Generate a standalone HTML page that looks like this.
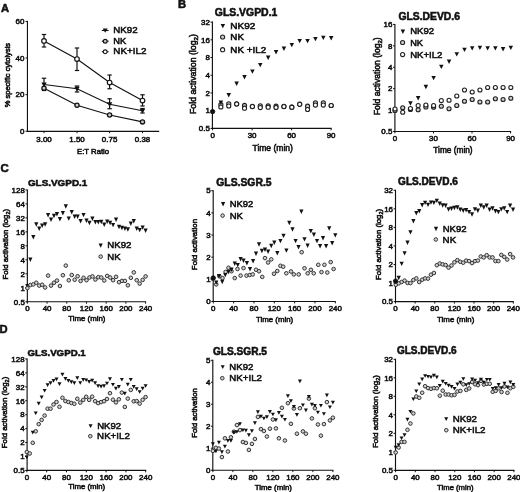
<!DOCTYPE html>
<html><head><meta charset="utf-8"><style>
text{stroke:#111;stroke-width:0.55px;}
html,body{margin:0;padding:0;background:#fff;width:520px;height:492px;overflow:hidden;font-family:"Liberation Sans", sans-serif;}
</style></head><body>
<svg width="520" height="492" viewBox="0 0 520 492" style="position:absolute;left:0;top:0;will-change:transform">
<rect width="520" height="492" fill="#fff"/>
<g font-family='"Liberation Sans", sans-serif' fill="#111">
<text x="0.9" y="12.3" font-size="11.2" font-weight="bold">A</text>
<line x1="27.45" y1="20.90" x2="27.45" y2="131.90" stroke="#111" stroke-width="1.15"/>
<line x1="26.85" y1="131.30" x2="159.20" y2="131.30" stroke="#111" stroke-width="1.15"/>
<line x1="25.55" y1="131.30" x2="27.45" y2="131.30" stroke="#111" stroke-width="1.0"/>
<text x="24.45" y="134.08" font-size="7.95" text-anchor="end">0</text>
<line x1="25.55" y1="94.67" x2="27.45" y2="94.67" stroke="#111" stroke-width="1.0"/>
<text x="24.45" y="97.45" font-size="7.95" text-anchor="end">20</text>
<line x1="25.55" y1="58.03" x2="27.45" y2="58.03" stroke="#111" stroke-width="1.0"/>
<text x="24.45" y="60.82" font-size="7.95" text-anchor="end">40</text>
<line x1="25.55" y1="21.40" x2="27.45" y2="21.40" stroke="#111" stroke-width="1.0"/>
<text x="24.45" y="24.18" font-size="7.95" text-anchor="end">60</text>
<line x1="44.00" y1="131.30" x2="44.00" y2="133.20" stroke="#111" stroke-width="1.0"/>
<text x="44.00" y="141.50" font-size="7.95" text-anchor="middle">3.00</text>
<line x1="77.00" y1="131.30" x2="77.00" y2="133.20" stroke="#111" stroke-width="1.0"/>
<text x="77.00" y="141.50" font-size="7.95" text-anchor="middle">1.50</text>
<line x1="109.60" y1="131.30" x2="109.60" y2="133.20" stroke="#111" stroke-width="1.0"/>
<text x="109.60" y="141.50" font-size="7.95" text-anchor="middle">0.75</text>
<line x1="142.50" y1="131.30" x2="142.50" y2="133.20" stroke="#111" stroke-width="1.0"/>
<text x="142.50" y="141.50" font-size="7.95" text-anchor="middle">0.38</text>
<text transform="translate(77.08,153.80) scale(1.000,1)" font-size="7.72" font-weight="normal" >E:T Ratio</text>
<text transform="translate(10.00,107.36) rotate(-90)" font-size="7.54">% specific cytolysis</text>
<polyline points="44.0,40.9 77.0,59.0 109.6,82.5 142.5,100.6" fill="none" stroke="#111" stroke-width="1.15"/>
<polyline points="44.0,84.5 77.0,88.8 109.6,104.2 142.5,110.8" fill="none" stroke="#111" stroke-width="1.15"/>
<polyline points="44.0,88.2 77.0,105.2 109.6,115.0 142.5,121.9" fill="none" stroke="#111" stroke-width="1.15"/>
<line x1="44.00" y1="34.50" x2="44.00" y2="47.00" stroke="#111" stroke-width="1.2"/>
<line x1="41.80" y1="34.50" x2="46.20" y2="34.50" stroke="#111" stroke-width="1.2"/>
<line x1="41.80" y1="47.00" x2="46.20" y2="47.00" stroke="#111" stroke-width="1.2"/>
<line x1="77.00" y1="48.00" x2="77.00" y2="70.50" stroke="#111" stroke-width="1.2"/>
<line x1="74.80" y1="48.00" x2="79.20" y2="48.00" stroke="#111" stroke-width="1.2"/>
<line x1="74.80" y1="70.50" x2="79.20" y2="70.50" stroke="#111" stroke-width="1.2"/>
<line x1="109.60" y1="75.00" x2="109.60" y2="88.75" stroke="#111" stroke-width="1.2"/>
<line x1="107.40" y1="75.00" x2="111.80" y2="75.00" stroke="#111" stroke-width="1.2"/>
<line x1="107.40" y1="88.75" x2="111.80" y2="88.75" stroke="#111" stroke-width="1.2"/>
<line x1="142.50" y1="94.80" x2="142.50" y2="106.00" stroke="#111" stroke-width="1.2"/>
<line x1="140.30" y1="94.80" x2="144.70" y2="94.80" stroke="#111" stroke-width="1.2"/>
<line x1="140.30" y1="106.00" x2="144.70" y2="106.00" stroke="#111" stroke-width="1.2"/>
<line x1="44.00" y1="78.25" x2="44.00" y2="90.50" stroke="#111" stroke-width="1.2"/>
<line x1="41.80" y1="78.25" x2="46.20" y2="78.25" stroke="#111" stroke-width="1.2"/>
<line x1="41.80" y1="90.50" x2="46.20" y2="90.50" stroke="#111" stroke-width="1.2"/>
<line x1="77.00" y1="86.00" x2="77.00" y2="92.00" stroke="#111" stroke-width="1.2"/>
<line x1="74.80" y1="86.00" x2="79.20" y2="86.00" stroke="#111" stroke-width="1.2"/>
<line x1="74.80" y1="92.00" x2="79.20" y2="92.00" stroke="#111" stroke-width="1.2"/>
<line x1="109.60" y1="98.75" x2="109.60" y2="108.75" stroke="#111" stroke-width="1.2"/>
<line x1="107.40" y1="98.75" x2="111.80" y2="98.75" stroke="#111" stroke-width="1.2"/>
<line x1="107.40" y1="108.75" x2="111.80" y2="108.75" stroke="#111" stroke-width="1.2"/>
<line x1="142.50" y1="108.50" x2="142.50" y2="113.00" stroke="#111" stroke-width="1.2"/>
<line x1="140.30" y1="108.50" x2="144.70" y2="108.50" stroke="#111" stroke-width="1.2"/>
<line x1="140.30" y1="113.00" x2="144.70" y2="113.00" stroke="#111" stroke-width="1.2"/>
<circle cx="44.00" cy="88.25" r="2.1" fill="#ccc" stroke="#111" stroke-width="1.3"/>
<circle cx="77.00" cy="105.25" r="2.1" fill="#ccc" stroke="#111" stroke-width="1.3"/>
<circle cx="109.60" cy="115.00" r="2.1" fill="#ccc" stroke="#111" stroke-width="1.3"/>
<circle cx="142.50" cy="121.90" r="2.1" fill="#ccc" stroke="#111" stroke-width="1.3"/>
<path d="M41.30,82.50L46.70,82.50L44.00,87.10Z" fill="#111"/>
<path d="M74.30,86.75L79.70,86.75L77.00,91.35Z" fill="#111"/>
<path d="M106.90,102.25L112.30,102.25L109.60,106.85Z" fill="#111"/>
<path d="M139.80,108.80L145.20,108.80L142.50,113.40Z" fill="#111"/>
<circle cx="44.00" cy="40.90" r="2.3" fill="#fff" stroke="#111" stroke-width="1.15"/>
<circle cx="77.00" cy="59.00" r="2.3" fill="#fff" stroke="#111" stroke-width="1.15"/>
<circle cx="109.60" cy="82.50" r="2.3" fill="#fff" stroke="#111" stroke-width="1.15"/>
<circle cx="142.50" cy="100.60" r="2.3" fill="#fff" stroke="#111" stroke-width="1.15"/>
<line x1="101.80" y1="30.50" x2="108.60" y2="30.50" stroke="#111" stroke-width="1.1"/>
<line x1="101.80" y1="41.20" x2="108.60" y2="41.20" stroke="#111" stroke-width="1.1"/>
<line x1="101.80" y1="51.80" x2="108.60" y2="51.80" stroke="#111" stroke-width="1.1"/>
<path d="M102.70,28.50L107.70,28.50L105.20,32.70Z" fill="#111"/>
<circle cx="105.20" cy="41.20" r="1.9" fill="#ccc" stroke="#111" stroke-width="1.2"/>
<circle cx="105.20" cy="51.80" r="1.9" fill="#fff" stroke="#111" stroke-width="1.1"/>
<text transform="translate(113.32,33.10) scale(1.000,1)" font-size="9.75" font-weight="normal" >NK92</text>
<text transform="translate(113.35,43.70) scale(1.000,1)" font-size="9.34" font-weight="normal" >NK</text>
<text transform="translate(113.31,54.00) scale(1.000,1)" font-size="9.85" font-weight="normal" >NK+IL2</text>
<text x="178.1" y="8.3" font-size="11.2" font-weight="bold">B</text>
<line x1="212.40" y1="21.60" x2="212.40" y2="129.02" stroke="#111" stroke-width="1.15"/>
<line x1="211.80" y1="128.42" x2="331.60" y2="128.42" stroke="#111" stroke-width="1.15"/>
<line x1="210.50" y1="128.42" x2="212.40" y2="128.42" stroke="#111" stroke-width="1.0"/>
<text x="209.90" y="131.20" font-size="7.95" text-anchor="end">0.5</text>
<line x1="210.50" y1="110.70" x2="212.40" y2="110.70" stroke="#111" stroke-width="1.0"/>
<text x="209.90" y="113.48" font-size="7.95" text-anchor="end">1</text>
<line x1="210.50" y1="92.98" x2="212.40" y2="92.98" stroke="#111" stroke-width="1.0"/>
<text x="209.90" y="95.76" font-size="7.95" text-anchor="end">2</text>
<line x1="210.50" y1="75.26" x2="212.40" y2="75.26" stroke="#111" stroke-width="1.0"/>
<text x="209.90" y="78.04" font-size="7.95" text-anchor="end">4</text>
<line x1="210.50" y1="57.54" x2="212.40" y2="57.54" stroke="#111" stroke-width="1.0"/>
<text x="209.90" y="60.32" font-size="7.95" text-anchor="end">8</text>
<line x1="210.50" y1="39.82" x2="212.40" y2="39.82" stroke="#111" stroke-width="1.0"/>
<text x="209.90" y="42.60" font-size="7.95" text-anchor="end">16</text>
<line x1="210.50" y1="22.10" x2="212.40" y2="22.10" stroke="#111" stroke-width="1.0"/>
<text x="209.90" y="24.88" font-size="7.95" text-anchor="end">32</text>
<line x1="212.60" y1="128.42" x2="212.60" y2="130.32" stroke="#111" stroke-width="1.0"/>
<text x="212.60" y="138.12" font-size="7.95" text-anchor="middle">0</text>
<line x1="252.10" y1="128.42" x2="252.10" y2="130.32" stroke="#111" stroke-width="1.0"/>
<text x="252.10" y="138.12" font-size="7.95" text-anchor="middle">30</text>
<line x1="291.60" y1="128.42" x2="291.60" y2="130.32" stroke="#111" stroke-width="1.0"/>
<text x="291.60" y="138.12" font-size="7.95" text-anchor="middle">60</text>
<line x1="331.10" y1="128.42" x2="331.10" y2="130.32" stroke="#111" stroke-width="1.0"/>
<text x="331.10" y="138.12" font-size="7.95" text-anchor="middle">90</text>
<text transform="translate(214.78,15.70) scale(1.000,1)" font-size="10.43" font-weight="bold" >GLS.VGPD.1</text>
<text transform="translate(196.20,114.00) rotate(-90)" font-size="8.78">Fold activation (log<tspan font-size="6.15" dy="1.93">2</tspan><tspan dy="-1.93">)</tspan></text>
<text transform="translate(252.49,151.40) scale(1.000,1)" font-size="8.52" font-weight="normal" >Time (min)</text>
<path d="M220.60,23.90L225.10,23.90L222.85,28.20Z" fill="#111"/>
<text transform="translate(230.30,29.30) scale(1.070,1)" font-size="9.39" font-weight="normal" >NK92</text>
<circle cx="222.60" cy="37.00" r="2.05" fill="#cfcfcf" stroke="#222" stroke-width="1.1"/>
<text transform="translate(230.32,40.30) scale(1.070,1)" font-size="9.17" font-weight="normal" >NK</text>
<circle cx="222.60" cy="49.70" r="2.05" fill="#fff" stroke="#222" stroke-width="1.1"/>
<text transform="translate(230.31,53.00) scale(1.070,1)" font-size="9.21" font-weight="normal" >NK +IL2</text>
<line x1="394.90" y1="23.92" x2="394.90" y2="132.12" stroke="#111" stroke-width="1.15"/>
<line x1="394.30" y1="131.52" x2="511.10" y2="131.52" stroke="#111" stroke-width="1.15"/>
<line x1="393.00" y1="131.52" x2="394.90" y2="131.52" stroke="#111" stroke-width="1.0"/>
<text x="392.40" y="134.30" font-size="7.95" text-anchor="end">0.5</text>
<line x1="393.00" y1="110.10" x2="394.90" y2="110.10" stroke="#111" stroke-width="1.0"/>
<text x="392.40" y="112.88" font-size="7.95" text-anchor="end">1</text>
<line x1="393.00" y1="88.68" x2="394.90" y2="88.68" stroke="#111" stroke-width="1.0"/>
<text x="392.40" y="91.46" font-size="7.95" text-anchor="end">2</text>
<line x1="393.00" y1="67.26" x2="394.90" y2="67.26" stroke="#111" stroke-width="1.0"/>
<text x="392.40" y="70.04" font-size="7.95" text-anchor="end">4</text>
<line x1="393.00" y1="45.84" x2="394.90" y2="45.84" stroke="#111" stroke-width="1.0"/>
<text x="392.40" y="48.62" font-size="7.95" text-anchor="end">8</text>
<line x1="393.00" y1="24.42" x2="394.90" y2="24.42" stroke="#111" stroke-width="1.0"/>
<text x="392.40" y="27.20" font-size="7.95" text-anchor="end">16</text>
<line x1="394.90" y1="131.52" x2="394.90" y2="133.42" stroke="#111" stroke-width="1.0"/>
<text x="394.90" y="140.92" font-size="7.95" text-anchor="middle">0</text>
<line x1="433.47" y1="131.52" x2="433.47" y2="133.42" stroke="#111" stroke-width="1.0"/>
<text x="433.47" y="140.92" font-size="7.95" text-anchor="middle">30</text>
<line x1="472.03" y1="131.52" x2="472.03" y2="133.42" stroke="#111" stroke-width="1.0"/>
<text x="472.03" y="140.92" font-size="7.95" text-anchor="middle">60</text>
<line x1="510.60" y1="131.52" x2="510.60" y2="133.42" stroke="#111" stroke-width="1.0"/>
<text x="510.60" y="140.92" font-size="7.95" text-anchor="middle">90</text>
<text transform="translate(398.39,19.70) scale(1.000,1)" font-size="10.36" font-weight="bold" >GLS.DEVD.6</text>
<text transform="translate(379.80,115.28) rotate(-90)" font-size="8.56">Fold activation (log<tspan font-size="5.99" dy="1.88">2</tspan><tspan dy="-1.88">)</tspan></text>
<text transform="translate(433.29,153.40) scale(1.000,1)" font-size="8.30" font-weight="normal" >Time (min)</text>
<path d="M400.65,29.60L405.15,29.60L402.90,33.90Z" fill="#111"/>
<text transform="translate(410.13,34.20) scale(1.000,1)" font-size="9.58" font-weight="normal" >NK92</text>
<circle cx="402.60" cy="42.50" r="2.05" fill="#cfcfcf" stroke="#222" stroke-width="1.1"/>
<text transform="translate(410.16,46.30) scale(1.000,1)" font-size="9.27" font-weight="normal" >NK</text>
<circle cx="402.60" cy="54.60" r="2.05" fill="#fff" stroke="#222" stroke-width="1.1"/>
<text transform="translate(410.13,58.40) scale(1.000,1)" font-size="9.60" font-weight="normal" >NK+IL2</text>
<circle cx="220.88" cy="104.50" r="2.05" fill="#cfcfcf" stroke="#222" stroke-width="1.1"/>
<circle cx="228.76" cy="103.80" r="2.05" fill="#cfcfcf" stroke="#222" stroke-width="1.1"/>
<circle cx="236.64" cy="103.80" r="2.05" fill="#cfcfcf" stroke="#222" stroke-width="1.1"/>
<circle cx="244.52" cy="105.40" r="2.05" fill="#cfcfcf" stroke="#222" stroke-width="1.1"/>
<circle cx="252.40" cy="106.40" r="2.05" fill="#cfcfcf" stroke="#222" stroke-width="1.1"/>
<circle cx="260.28" cy="105.75" r="2.05" fill="#cfcfcf" stroke="#222" stroke-width="1.1"/>
<circle cx="268.16" cy="105.75" r="2.05" fill="#cfcfcf" stroke="#222" stroke-width="1.1"/>
<circle cx="276.04" cy="106.20" r="2.05" fill="#cfcfcf" stroke="#222" stroke-width="1.1"/>
<circle cx="283.92" cy="106.40" r="2.05" fill="#cfcfcf" stroke="#222" stroke-width="1.1"/>
<circle cx="291.80" cy="107.20" r="2.05" fill="#cfcfcf" stroke="#222" stroke-width="1.1"/>
<circle cx="299.68" cy="104.10" r="2.05" fill="#cfcfcf" stroke="#222" stroke-width="1.1"/>
<circle cx="307.56" cy="106.20" r="2.05" fill="#cfcfcf" stroke="#222" stroke-width="1.1"/>
<circle cx="315.44" cy="102.80" r="2.05" fill="#cfcfcf" stroke="#222" stroke-width="1.1"/>
<circle cx="323.32" cy="102.80" r="2.05" fill="#cfcfcf" stroke="#222" stroke-width="1.1"/>
<circle cx="331.20" cy="105.50" r="2.05" fill="#cfcfcf" stroke="#222" stroke-width="1.1"/>
<circle cx="220.88" cy="107.00" r="2.05" fill="#fff" stroke="#222" stroke-width="1.1"/>
<circle cx="228.76" cy="106.00" r="2.05" fill="#fff" stroke="#222" stroke-width="1.1"/>
<circle cx="236.64" cy="104.00" r="2.05" fill="#fff" stroke="#222" stroke-width="1.1"/>
<circle cx="244.52" cy="108.20" r="2.05" fill="#fff" stroke="#222" stroke-width="1.1"/>
<circle cx="252.40" cy="106.60" r="2.05" fill="#fff" stroke="#222" stroke-width="1.1"/>
<circle cx="260.28" cy="107.60" r="2.05" fill="#fff" stroke="#222" stroke-width="1.1"/>
<circle cx="268.16" cy="107.20" r="2.05" fill="#fff" stroke="#222" stroke-width="1.1"/>
<circle cx="276.04" cy="107.50" r="2.05" fill="#fff" stroke="#222" stroke-width="1.1"/>
<circle cx="283.92" cy="106.60" r="2.05" fill="#fff" stroke="#222" stroke-width="1.1"/>
<circle cx="291.80" cy="107.20" r="2.05" fill="#fff" stroke="#222" stroke-width="1.1"/>
<circle cx="299.68" cy="104.30" r="2.05" fill="#fff" stroke="#222" stroke-width="1.1"/>
<circle cx="307.56" cy="109.50" r="2.05" fill="#fff" stroke="#222" stroke-width="1.1"/>
<circle cx="315.44" cy="105.10" r="2.05" fill="#fff" stroke="#222" stroke-width="1.1"/>
<circle cx="323.32" cy="105.10" r="2.05" fill="#fff" stroke="#222" stroke-width="1.1"/>
<circle cx="331.20" cy="105.50" r="2.05" fill="#fff" stroke="#222" stroke-width="1.1"/>
<path d="M218.63,100.60L223.13,100.60L220.88,104.90Z" fill="#111"/>
<path d="M226.51,93.10L231.01,93.10L228.76,97.40Z" fill="#111"/>
<path d="M234.39,81.60L238.89,81.60L236.64,85.90Z" fill="#111"/>
<path d="M242.27,75.10L246.77,75.10L244.52,79.40Z" fill="#111"/>
<path d="M250.15,69.40L254.65,69.40L252.40,73.70Z" fill="#111"/>
<path d="M258.03,62.90L262.53,62.90L260.28,67.20Z" fill="#111"/>
<path d="M265.91,55.60L270.41,55.60L268.16,59.90Z" fill="#111"/>
<path d="M273.79,50.10L278.29,50.10L276.04,54.40Z" fill="#111"/>
<path d="M281.67,46.60L286.17,46.60L283.92,50.90Z" fill="#111"/>
<path d="M289.55,43.00L294.05,43.00L291.80,47.30Z" fill="#111"/>
<path d="M297.43,38.90L301.93,38.90L299.68,43.20Z" fill="#111"/>
<path d="M305.31,38.90L309.81,38.90L307.56,43.20Z" fill="#111"/>
<path d="M313.19,36.90L317.69,36.90L315.44,41.20Z" fill="#111"/>
<path d="M321.07,35.70L325.57,35.70L323.32,40.00Z" fill="#111"/>
<path d="M328.95,36.10L333.45,36.10L331.20,40.40Z" fill="#111"/>
<circle cx="212.60" cy="111.60" r="2.2" fill="#111" stroke="#111" stroke-width="0.8"/>
<circle cx="395.00" cy="110.50" r="2.05" fill="#cfcfcf" stroke="#222" stroke-width="1.1"/>
<circle cx="402.72" cy="107.75" r="2.05" fill="#cfcfcf" stroke="#222" stroke-width="1.1"/>
<circle cx="410.44" cy="109.50" r="2.05" fill="#cfcfcf" stroke="#222" stroke-width="1.1"/>
<circle cx="418.16" cy="109.75" r="2.05" fill="#cfcfcf" stroke="#222" stroke-width="1.1"/>
<circle cx="425.88" cy="106.90" r="2.05" fill="#cfcfcf" stroke="#222" stroke-width="1.1"/>
<circle cx="433.60" cy="107.25" r="2.05" fill="#cfcfcf" stroke="#222" stroke-width="1.1"/>
<circle cx="441.32" cy="106.25" r="2.05" fill="#cfcfcf" stroke="#222" stroke-width="1.1"/>
<circle cx="449.04" cy="108.75" r="2.05" fill="#cfcfcf" stroke="#222" stroke-width="1.1"/>
<circle cx="456.76" cy="105.50" r="2.05" fill="#cfcfcf" stroke="#222" stroke-width="1.1"/>
<circle cx="464.48" cy="101.25" r="2.05" fill="#cfcfcf" stroke="#222" stroke-width="1.1"/>
<circle cx="472.20" cy="99.50" r="2.05" fill="#cfcfcf" stroke="#222" stroke-width="1.1"/>
<circle cx="479.92" cy="102.00" r="2.05" fill="#cfcfcf" stroke="#222" stroke-width="1.1"/>
<circle cx="487.64" cy="102.00" r="2.05" fill="#cfcfcf" stroke="#222" stroke-width="1.1"/>
<circle cx="495.36" cy="98.75" r="2.05" fill="#cfcfcf" stroke="#222" stroke-width="1.1"/>
<circle cx="503.08" cy="99.50" r="2.05" fill="#cfcfcf" stroke="#222" stroke-width="1.1"/>
<circle cx="510.80" cy="98.25" r="2.05" fill="#cfcfcf" stroke="#222" stroke-width="1.1"/>
<circle cx="395.00" cy="109.00" r="2.05" fill="#fff" stroke="#222" stroke-width="1.1"/>
<circle cx="402.72" cy="112.25" r="2.05" fill="#fff" stroke="#222" stroke-width="1.1"/>
<circle cx="410.44" cy="108.50" r="2.05" fill="#fff" stroke="#222" stroke-width="1.1"/>
<circle cx="418.16" cy="105.60" r="2.05" fill="#fff" stroke="#222" stroke-width="1.1"/>
<circle cx="425.88" cy="105.00" r="2.05" fill="#fff" stroke="#222" stroke-width="1.1"/>
<circle cx="433.60" cy="105.60" r="2.05" fill="#fff" stroke="#222" stroke-width="1.1"/>
<circle cx="441.32" cy="100.60" r="2.05" fill="#fff" stroke="#222" stroke-width="1.1"/>
<circle cx="449.04" cy="100.25" r="2.05" fill="#fff" stroke="#222" stroke-width="1.1"/>
<circle cx="456.76" cy="96.00" r="2.05" fill="#fff" stroke="#222" stroke-width="1.1"/>
<circle cx="464.48" cy="90.00" r="2.05" fill="#fff" stroke="#222" stroke-width="1.1"/>
<circle cx="472.20" cy="92.00" r="2.05" fill="#fff" stroke="#222" stroke-width="1.1"/>
<circle cx="479.92" cy="90.00" r="2.05" fill="#fff" stroke="#222" stroke-width="1.1"/>
<circle cx="487.64" cy="87.50" r="2.05" fill="#fff" stroke="#222" stroke-width="1.1"/>
<circle cx="495.36" cy="87.50" r="2.05" fill="#fff" stroke="#222" stroke-width="1.1"/>
<circle cx="503.08" cy="87.50" r="2.05" fill="#fff" stroke="#222" stroke-width="1.1"/>
<circle cx="510.80" cy="87.50" r="2.05" fill="#fff" stroke="#222" stroke-width="1.1"/>
<path d="M408.19,101.35L412.69,101.35L410.44,105.65Z" fill="#111"/>
<path d="M415.91,96.10L420.41,96.10L418.16,100.40Z" fill="#111"/>
<path d="M423.63,84.85L428.13,84.85L425.88,89.15Z" fill="#111"/>
<path d="M431.35,76.00L435.85,76.00L433.60,80.30Z" fill="#111"/>
<path d="M439.07,64.70L443.57,64.70L441.32,69.00Z" fill="#111"/>
<path d="M446.79,59.60L451.29,59.60L449.04,63.90Z" fill="#111"/>
<path d="M454.51,52.30L459.01,52.30L456.76,56.60Z" fill="#111"/>
<path d="M462.23,47.80L466.73,47.80L464.48,52.10Z" fill="#111"/>
<path d="M469.95,46.20L474.45,46.20L472.20,50.50Z" fill="#111"/>
<path d="M477.67,45.70L482.17,45.70L479.92,50.00Z" fill="#111"/>
<path d="M485.39,46.20L489.89,46.20L487.64,50.50Z" fill="#111"/>
<path d="M493.11,46.20L497.61,46.20L495.36,50.50Z" fill="#111"/>
<path d="M500.83,47.10L505.33,47.10L503.08,51.40Z" fill="#111"/>
<path d="M508.55,45.70L513.05,45.70L510.80,50.00Z" fill="#111"/>
<text x="0.4" y="172.4" font-size="11.4" font-weight="bold">C</text>
<line x1="27.35" y1="189.44" x2="27.35" y2="302.38" stroke="#111" stroke-width="1.15"/>
<line x1="26.75" y1="301.78" x2="146.10" y2="301.78" stroke="#111" stroke-width="1.15"/>
<line x1="25.45" y1="301.78" x2="27.35" y2="301.78" stroke="#111" stroke-width="1.0"/>
<text x="24.85" y="304.56" font-size="7.95" text-anchor="end">0.5</text>
<line x1="25.45" y1="287.80" x2="27.35" y2="287.80" stroke="#111" stroke-width="1.0"/>
<text x="24.85" y="290.58" font-size="7.95" text-anchor="end">1</text>
<line x1="25.45" y1="273.82" x2="27.35" y2="273.82" stroke="#111" stroke-width="1.0"/>
<text x="24.85" y="276.60" font-size="7.95" text-anchor="end">2</text>
<line x1="25.45" y1="259.84" x2="27.35" y2="259.84" stroke="#111" stroke-width="1.0"/>
<text x="24.85" y="262.62" font-size="7.95" text-anchor="end">4</text>
<line x1="25.45" y1="245.86" x2="27.35" y2="245.86" stroke="#111" stroke-width="1.0"/>
<text x="24.85" y="248.64" font-size="7.95" text-anchor="end">8</text>
<line x1="25.45" y1="231.88" x2="27.35" y2="231.88" stroke="#111" stroke-width="1.0"/>
<text x="24.85" y="234.66" font-size="7.95" text-anchor="end">16</text>
<line x1="25.45" y1="217.90" x2="27.35" y2="217.90" stroke="#111" stroke-width="1.0"/>
<text x="24.85" y="220.68" font-size="7.95" text-anchor="end">32</text>
<line x1="25.45" y1="203.92" x2="27.35" y2="203.92" stroke="#111" stroke-width="1.0"/>
<text x="24.85" y="206.70" font-size="7.95" text-anchor="end">64</text>
<line x1="25.45" y1="189.94" x2="27.35" y2="189.94" stroke="#111" stroke-width="1.0"/>
<text x="24.85" y="192.72" font-size="7.95" text-anchor="end">128</text>
<line x1="27.35" y1="301.78" x2="27.35" y2="303.68" stroke="#111" stroke-width="1.0"/>
<text x="27.35" y="311.28" font-size="7.95" text-anchor="middle">0</text>
<line x1="47.06" y1="301.78" x2="47.06" y2="303.68" stroke="#111" stroke-width="1.0"/>
<text x="47.06" y="311.28" font-size="7.95" text-anchor="middle">40</text>
<line x1="66.77" y1="301.78" x2="66.77" y2="303.68" stroke="#111" stroke-width="1.0"/>
<text x="66.77" y="311.28" font-size="7.95" text-anchor="middle">80</text>
<line x1="86.47" y1="301.78" x2="86.47" y2="303.68" stroke="#111" stroke-width="1.0"/>
<text x="86.47" y="311.28" font-size="7.95" text-anchor="middle">120</text>
<line x1="106.18" y1="301.78" x2="106.18" y2="303.68" stroke="#111" stroke-width="1.0"/>
<text x="106.18" y="311.28" font-size="7.95" text-anchor="middle">160</text>
<line x1="125.89" y1="301.78" x2="125.89" y2="303.68" stroke="#111" stroke-width="1.0"/>
<text x="125.89" y="311.28" font-size="7.95" text-anchor="middle">200</text>
<line x1="145.60" y1="301.78" x2="145.60" y2="303.68" stroke="#111" stroke-width="1.0"/>
<text x="145.60" y="311.28" font-size="7.95" text-anchor="middle">240</text>
<text transform="translate(27.90,186.30) scale(1.000,1)" font-size="9.91" font-weight="bold" >GLS.VGPD.1</text>
<text transform="translate(7.90,279.42) rotate(-90)" font-size="7.73">Fold activation (log<tspan font-size="5.41" dy="1.70">2</tspan><tspan dy="-1.70">)</tspan></text>
<text transform="translate(68.30,321.10) scale(1.000,1)" font-size="7.85" font-weight="normal" >Time (min)</text>
<path d="M98.60,243.40L102.80,243.40L100.70,247.80Z" fill="#111"/>
<text transform="translate(107.33,248.40) scale(1.000,1)" font-size="9.66" font-weight="normal" >NK92</text>
<circle cx="100.70" cy="256.60" r="1.8" fill="#cfcfcf" stroke="#333" stroke-width="1.0"/>
<text transform="translate(107.33,259.70) scale(1.000,1)" font-size="9.65" font-weight="normal" >NK</text>
<line x1="213.20" y1="190.20" x2="213.20" y2="302.10" stroke="#111" stroke-width="1.15"/>
<line x1="212.60" y1="301.50" x2="335.80" y2="301.50" stroke="#111" stroke-width="1.15"/>
<line x1="211.30" y1="301.50" x2="213.20" y2="301.50" stroke="#111" stroke-width="1.0"/>
<text x="210.70" y="304.28" font-size="7.95" text-anchor="end">0</text>
<line x1="211.30" y1="279.34" x2="213.20" y2="279.34" stroke="#111" stroke-width="1.0"/>
<text x="210.70" y="282.12" font-size="7.95" text-anchor="end">1</text>
<line x1="211.30" y1="257.18" x2="213.20" y2="257.18" stroke="#111" stroke-width="1.0"/>
<text x="210.70" y="259.96" font-size="7.95" text-anchor="end">2</text>
<line x1="211.30" y1="235.02" x2="213.20" y2="235.02" stroke="#111" stroke-width="1.0"/>
<text x="210.70" y="237.80" font-size="7.95" text-anchor="end">3</text>
<line x1="211.30" y1="212.86" x2="213.20" y2="212.86" stroke="#111" stroke-width="1.0"/>
<text x="210.70" y="215.64" font-size="7.95" text-anchor="end">4</text>
<line x1="211.30" y1="190.70" x2="213.20" y2="190.70" stroke="#111" stroke-width="1.0"/>
<text x="210.70" y="193.48" font-size="7.95" text-anchor="end">5</text>
<line x1="213.30" y1="301.50" x2="213.30" y2="303.40" stroke="#111" stroke-width="1.0"/>
<text x="213.30" y="311.00" font-size="7.95" text-anchor="middle">0</text>
<line x1="233.63" y1="301.50" x2="233.63" y2="303.40" stroke="#111" stroke-width="1.0"/>
<text x="233.63" y="311.00" font-size="7.95" text-anchor="middle">40</text>
<line x1="253.97" y1="301.50" x2="253.97" y2="303.40" stroke="#111" stroke-width="1.0"/>
<text x="253.97" y="311.00" font-size="7.95" text-anchor="middle">80</text>
<line x1="274.30" y1="301.50" x2="274.30" y2="303.40" stroke="#111" stroke-width="1.0"/>
<text x="274.30" y="311.00" font-size="7.95" text-anchor="middle">120</text>
<line x1="294.63" y1="301.50" x2="294.63" y2="303.40" stroke="#111" stroke-width="1.0"/>
<text x="294.63" y="311.00" font-size="7.95" text-anchor="middle">160</text>
<line x1="314.97" y1="301.50" x2="314.97" y2="303.40" stroke="#111" stroke-width="1.0"/>
<text x="314.97" y="311.00" font-size="7.95" text-anchor="middle">200</text>
<line x1="335.30" y1="301.50" x2="335.30" y2="303.40" stroke="#111" stroke-width="1.0"/>
<text x="335.30" y="311.00" font-size="7.95" text-anchor="middle">240</text>
<text transform="translate(216.29,186.30) scale(1.000,1)" font-size="10.36" font-weight="bold" >GLS.SGR.5</text>
<text transform="translate(196.80,270.24) rotate(-90)" font-size="7.97">Fold activation</text>
<text transform="translate(256.00,321.70) scale(1.000,1)" font-size="7.85" font-weight="normal" >Time (min)</text>
<path d="M221.00,202.00L225.20,202.00L223.10,206.40Z" fill="#111"/>
<text transform="translate(229.75,206.60) scale(1.000,1)" font-size="9.41" font-weight="normal" >NK92</text>
<circle cx="222.60" cy="215.60" r="1.8" fill="#cfcfcf" stroke="#333" stroke-width="1.0"/>
<text transform="translate(229.74,218.90) scale(1.000,1)" font-size="9.50" font-weight="normal" >NK</text>
<line x1="395.50" y1="189.75" x2="395.50" y2="302.27" stroke="#111" stroke-width="1.15"/>
<line x1="394.90" y1="301.67" x2="513.80" y2="301.67" stroke="#111" stroke-width="1.15"/>
<line x1="393.60" y1="301.67" x2="395.50" y2="301.67" stroke="#111" stroke-width="1.0"/>
<text x="393.00" y="304.45" font-size="7.95" text-anchor="end">0.5</text>
<line x1="393.60" y1="283.10" x2="395.50" y2="283.10" stroke="#111" stroke-width="1.0"/>
<text x="393.00" y="285.88" font-size="7.95" text-anchor="end">1</text>
<line x1="393.60" y1="264.53" x2="395.50" y2="264.53" stroke="#111" stroke-width="1.0"/>
<text x="393.00" y="267.31" font-size="7.95" text-anchor="end">2</text>
<line x1="393.60" y1="245.96" x2="395.50" y2="245.96" stroke="#111" stroke-width="1.0"/>
<text x="393.00" y="248.74" font-size="7.95" text-anchor="end">4</text>
<line x1="393.60" y1="227.39" x2="395.50" y2="227.39" stroke="#111" stroke-width="1.0"/>
<text x="393.00" y="230.17" font-size="7.95" text-anchor="end">8</text>
<line x1="393.60" y1="208.82" x2="395.50" y2="208.82" stroke="#111" stroke-width="1.0"/>
<text x="393.00" y="211.60" font-size="7.95" text-anchor="end">16</text>
<line x1="393.60" y1="190.25" x2="395.50" y2="190.25" stroke="#111" stroke-width="1.0"/>
<text x="393.00" y="193.03" font-size="7.95" text-anchor="end">32</text>
<line x1="395.50" y1="301.67" x2="395.50" y2="303.57" stroke="#111" stroke-width="1.0"/>
<text x="395.50" y="311.17" font-size="7.95" text-anchor="middle">0</text>
<line x1="415.13" y1="301.67" x2="415.13" y2="303.57" stroke="#111" stroke-width="1.0"/>
<text x="415.13" y="311.17" font-size="7.95" text-anchor="middle">40</text>
<line x1="434.77" y1="301.67" x2="434.77" y2="303.57" stroke="#111" stroke-width="1.0"/>
<text x="434.77" y="311.17" font-size="7.95" text-anchor="middle">80</text>
<line x1="454.40" y1="301.67" x2="454.40" y2="303.57" stroke="#111" stroke-width="1.0"/>
<text x="454.40" y="311.17" font-size="7.95" text-anchor="middle">120</text>
<line x1="474.03" y1="301.67" x2="474.03" y2="303.57" stroke="#111" stroke-width="1.0"/>
<text x="474.03" y="311.17" font-size="7.95" text-anchor="middle">160</text>
<line x1="493.67" y1="301.67" x2="493.67" y2="303.57" stroke="#111" stroke-width="1.0"/>
<text x="493.67" y="311.17" font-size="7.95" text-anchor="middle">200</text>
<line x1="513.30" y1="301.67" x2="513.30" y2="303.57" stroke="#111" stroke-width="1.0"/>
<text x="513.30" y="311.17" font-size="7.95" text-anchor="middle">240</text>
<text transform="translate(398.10,185.40) scale(1.000,1)" font-size="10.05" font-weight="bold" >GLS.DEVD.6</text>
<text transform="translate(381.00,279.92) rotate(-90)" font-size="7.79">Fold activation (log<tspan font-size="5.45" dy="1.71">2</tspan><tspan dy="-1.71">)</tspan></text>
<text transform="translate(437.10,321.50) scale(1.000,1)" font-size="7.85" font-weight="normal" >Time (min)</text>
<path d="M433.90,226.80L438.10,226.80L436.00,231.20Z" fill="#111"/>
<text transform="translate(442.64,231.60) scale(1.000,1)" font-size="9.54" font-weight="normal" >NK92</text>
<circle cx="435.80" cy="239.50" r="1.8" fill="#cfcfcf" stroke="#333" stroke-width="1.0"/>
<text transform="translate(442.62,242.60) scale(1.000,1)" font-size="9.73" font-weight="normal" >NK</text>
<path d="M25.30,284.10L29.50,284.10L27.40,288.50Z" fill="#111"/>
<circle cx="27.40" cy="288.10" r="1.8" fill="#cfcfcf" stroke="#333" stroke-width="1.0"/>
<circle cx="30.35" cy="285.00" r="1.8" fill="#cfcfcf" stroke="#333" stroke-width="1.0"/>
<circle cx="33.31" cy="284.40" r="1.8" fill="#cfcfcf" stroke="#333" stroke-width="1.0"/>
<circle cx="36.27" cy="282.75" r="1.8" fill="#cfcfcf" stroke="#333" stroke-width="1.0"/>
<circle cx="39.22" cy="285.60" r="1.8" fill="#cfcfcf" stroke="#333" stroke-width="1.0"/>
<circle cx="42.17" cy="284.75" r="1.8" fill="#cfcfcf" stroke="#333" stroke-width="1.0"/>
<circle cx="45.13" cy="287.50" r="1.8" fill="#cfcfcf" stroke="#333" stroke-width="1.0"/>
<circle cx="48.08" cy="275.60" r="1.8" fill="#cfcfcf" stroke="#333" stroke-width="1.0"/>
<circle cx="51.04" cy="285.60" r="1.8" fill="#cfcfcf" stroke="#333" stroke-width="1.0"/>
<circle cx="53.99" cy="282.75" r="1.8" fill="#cfcfcf" stroke="#333" stroke-width="1.0"/>
<circle cx="56.95" cy="280.60" r="1.8" fill="#cfcfcf" stroke="#333" stroke-width="1.0"/>
<circle cx="59.91" cy="286.00" r="1.8" fill="#cfcfcf" stroke="#333" stroke-width="1.0"/>
<circle cx="62.86" cy="275.25" r="1.8" fill="#cfcfcf" stroke="#333" stroke-width="1.0"/>
<circle cx="65.81" cy="265.60" r="1.8" fill="#cfcfcf" stroke="#333" stroke-width="1.0"/>
<circle cx="68.77" cy="280.25" r="1.8" fill="#cfcfcf" stroke="#333" stroke-width="1.0"/>
<circle cx="71.72" cy="275.00" r="1.8" fill="#cfcfcf" stroke="#333" stroke-width="1.0"/>
<circle cx="74.68" cy="279.75" r="1.8" fill="#cfcfcf" stroke="#333" stroke-width="1.0"/>
<circle cx="77.63" cy="276.25" r="1.8" fill="#cfcfcf" stroke="#333" stroke-width="1.0"/>
<circle cx="80.59" cy="281.00" r="1.8" fill="#cfcfcf" stroke="#333" stroke-width="1.0"/>
<circle cx="83.54" cy="277.80" r="1.8" fill="#cfcfcf" stroke="#333" stroke-width="1.0"/>
<circle cx="86.50" cy="280.20" r="1.8" fill="#cfcfcf" stroke="#333" stroke-width="1.0"/>
<circle cx="89.45" cy="277.50" r="1.8" fill="#cfcfcf" stroke="#333" stroke-width="1.0"/>
<circle cx="92.41" cy="276.40" r="1.8" fill="#cfcfcf" stroke="#333" stroke-width="1.0"/>
<circle cx="95.37" cy="279.50" r="1.8" fill="#cfcfcf" stroke="#333" stroke-width="1.0"/>
<circle cx="98.32" cy="277.20" r="1.8" fill="#cfcfcf" stroke="#333" stroke-width="1.0"/>
<circle cx="101.28" cy="277.50" r="1.8" fill="#cfcfcf" stroke="#333" stroke-width="1.0"/>
<circle cx="104.23" cy="280.50" r="1.8" fill="#cfcfcf" stroke="#333" stroke-width="1.0"/>
<circle cx="107.19" cy="275.90" r="1.8" fill="#cfcfcf" stroke="#333" stroke-width="1.0"/>
<circle cx="110.14" cy="277.50" r="1.8" fill="#cfcfcf" stroke="#333" stroke-width="1.0"/>
<circle cx="113.09" cy="280.20" r="1.8" fill="#cfcfcf" stroke="#333" stroke-width="1.0"/>
<circle cx="116.05" cy="276.80" r="1.8" fill="#cfcfcf" stroke="#333" stroke-width="1.0"/>
<circle cx="119.00" cy="282.20" r="1.8" fill="#cfcfcf" stroke="#333" stroke-width="1.0"/>
<circle cx="121.96" cy="280.90" r="1.8" fill="#cfcfcf" stroke="#333" stroke-width="1.0"/>
<circle cx="124.91" cy="280.90" r="1.8" fill="#cfcfcf" stroke="#333" stroke-width="1.0"/>
<circle cx="127.87" cy="285.30" r="1.8" fill="#cfcfcf" stroke="#333" stroke-width="1.0"/>
<circle cx="130.82" cy="277.80" r="1.8" fill="#cfcfcf" stroke="#333" stroke-width="1.0"/>
<circle cx="133.78" cy="272.40" r="1.8" fill="#cfcfcf" stroke="#333" stroke-width="1.0"/>
<circle cx="136.73" cy="280.20" r="1.8" fill="#cfcfcf" stroke="#333" stroke-width="1.0"/>
<circle cx="139.69" cy="283.60" r="1.8" fill="#cfcfcf" stroke="#333" stroke-width="1.0"/>
<circle cx="142.65" cy="279.90" r="1.8" fill="#cfcfcf" stroke="#333" stroke-width="1.0"/>
<circle cx="145.60" cy="276.40" r="1.8" fill="#cfcfcf" stroke="#333" stroke-width="1.0"/>
<path d="M28.25,257.50L32.45,257.50L30.35,261.90Z" fill="#111"/>
<path d="M31.21,235.10L35.41,235.10L33.31,239.50Z" fill="#111"/>
<path d="M34.16,222.25L38.37,222.25L36.27,226.65Z" fill="#111"/>
<path d="M37.12,226.60L41.32,226.60L39.22,231.00Z" fill="#111"/>
<path d="M40.07,223.50L44.27,223.50L42.17,227.90Z" fill="#111"/>
<path d="M43.03,222.25L47.23,222.25L45.13,226.65Z" fill="#111"/>
<path d="M45.98,213.10L50.18,213.10L48.08,217.50Z" fill="#111"/>
<path d="M48.94,217.60L53.14,217.60L51.04,222.00Z" fill="#111"/>
<path d="M51.89,213.75L56.09,213.75L53.99,218.15Z" fill="#111"/>
<path d="M54.85,212.00L59.05,212.00L56.95,216.40Z" fill="#111"/>
<path d="M57.80,217.00L62.01,217.00L59.91,221.40Z" fill="#111"/>
<path d="M60.76,211.00L64.96,211.00L62.86,215.40Z" fill="#111"/>
<path d="M63.71,204.25L67.91,204.25L65.81,208.65Z" fill="#111"/>
<path d="M66.67,216.40L70.87,216.40L68.77,220.80Z" fill="#111"/>
<path d="M69.62,210.00L73.82,210.00L71.72,214.40Z" fill="#111"/>
<path d="M72.58,214.50L76.78,214.50L74.68,218.90Z" fill="#111"/>
<path d="M75.53,214.50L79.73,214.50L77.63,218.90Z" fill="#111"/>
<path d="M78.49,219.10L82.69,219.10L80.59,223.50Z" fill="#111"/>
<path d="M81.44,212.90L85.64,212.90L83.54,217.30Z" fill="#111"/>
<path d="M84.40,218.50L88.60,218.50L86.50,222.90Z" fill="#111"/>
<path d="M87.36,220.75L91.55,220.75L89.45,225.15Z" fill="#111"/>
<path d="M90.31,216.60L94.51,216.60L92.41,221.00Z" fill="#111"/>
<path d="M93.27,220.00L97.47,220.00L95.37,224.40Z" fill="#111"/>
<path d="M96.22,220.00L100.42,220.00L98.32,224.40Z" fill="#111"/>
<path d="M99.18,219.75L103.38,219.75L101.28,224.15Z" fill="#111"/>
<path d="M102.13,222.50L106.33,222.50L104.23,226.90Z" fill="#111"/>
<path d="M105.09,219.50L109.28,219.50L107.19,223.90Z" fill="#111"/>
<path d="M108.04,220.75L112.24,220.75L110.14,225.15Z" fill="#111"/>
<path d="M111.00,222.90L115.19,222.90L113.09,227.30Z" fill="#111"/>
<path d="M113.95,217.50L118.15,217.50L116.05,221.90Z" fill="#111"/>
<path d="M116.91,224.75L121.10,224.75L119.00,229.15Z" fill="#111"/>
<path d="M119.86,225.75L124.06,225.75L121.96,230.15Z" fill="#111"/>
<path d="M122.81,226.60L127.01,226.60L124.91,231.00Z" fill="#111"/>
<path d="M125.77,227.25L129.97,227.25L127.87,231.65Z" fill="#111"/>
<path d="M128.72,221.60L132.92,221.60L130.82,226.00Z" fill="#111"/>
<path d="M131.68,219.10L135.88,219.10L133.78,223.50Z" fill="#111"/>
<path d="M134.63,226.60L138.83,226.60L136.73,231.00Z" fill="#111"/>
<path d="M137.59,227.90L141.79,227.90L139.69,232.30Z" fill="#111"/>
<path d="M140.55,225.40L144.75,225.40L142.65,229.80Z" fill="#111"/>
<path d="M143.50,228.50L147.70,228.50L145.60,232.90Z" fill="#111"/>
<circle cx="212.75" cy="278.75" r="1.8" fill="#cfcfcf" stroke="#333" stroke-width="1.0"/>
<circle cx="216.25" cy="284.40" r="1.8" fill="#cfcfcf" stroke="#333" stroke-width="1.0"/>
<circle cx="219.40" cy="276.25" r="1.8" fill="#cfcfcf" stroke="#333" stroke-width="1.0"/>
<circle cx="222.50" cy="278.10" r="1.8" fill="#cfcfcf" stroke="#333" stroke-width="1.0"/>
<circle cx="225.60" cy="271.90" r="1.8" fill="#cfcfcf" stroke="#333" stroke-width="1.0"/>
<circle cx="228.50" cy="267.75" r="1.8" fill="#cfcfcf" stroke="#333" stroke-width="1.0"/>
<circle cx="231.50" cy="271.25" r="1.8" fill="#cfcfcf" stroke="#333" stroke-width="1.0"/>
<circle cx="234.75" cy="278.10" r="1.8" fill="#cfcfcf" stroke="#333" stroke-width="1.0"/>
<circle cx="237.50" cy="269.00" r="1.8" fill="#cfcfcf" stroke="#333" stroke-width="1.0"/>
<circle cx="240.60" cy="275.60" r="1.8" fill="#cfcfcf" stroke="#333" stroke-width="1.0"/>
<circle cx="243.50" cy="268.10" r="1.8" fill="#cfcfcf" stroke="#333" stroke-width="1.0"/>
<circle cx="246.50" cy="275.60" r="1.8" fill="#cfcfcf" stroke="#333" stroke-width="1.0"/>
<circle cx="249.75" cy="275.00" r="1.8" fill="#cfcfcf" stroke="#333" stroke-width="1.0"/>
<circle cx="252.75" cy="274.40" r="1.8" fill="#cfcfcf" stroke="#333" stroke-width="1.0"/>
<circle cx="256.00" cy="269.75" r="1.8" fill="#cfcfcf" stroke="#333" stroke-width="1.0"/>
<circle cx="259.00" cy="271.25" r="1.8" fill="#cfcfcf" stroke="#333" stroke-width="1.0"/>
<circle cx="262.25" cy="276.90" r="1.8" fill="#cfcfcf" stroke="#333" stroke-width="1.0"/>
<circle cx="265.00" cy="258.10" r="1.8" fill="#cfcfcf" stroke="#333" stroke-width="1.0"/>
<circle cx="268.10" cy="262.50" r="1.8" fill="#cfcfcf" stroke="#333" stroke-width="1.0"/>
<circle cx="271.25" cy="259.40" r="1.8" fill="#cfcfcf" stroke="#333" stroke-width="1.0"/>
<circle cx="274.00" cy="273.75" r="1.8" fill="#cfcfcf" stroke="#333" stroke-width="1.0"/>
<circle cx="277.30" cy="271.00" r="1.8" fill="#cfcfcf" stroke="#333" stroke-width="1.0"/>
<circle cx="280.40" cy="265.80" r="1.8" fill="#cfcfcf" stroke="#333" stroke-width="1.0"/>
<circle cx="283.20" cy="266.70" r="1.8" fill="#cfcfcf" stroke="#333" stroke-width="1.0"/>
<circle cx="286.30" cy="273.30" r="1.8" fill="#cfcfcf" stroke="#333" stroke-width="1.0"/>
<circle cx="291.00" cy="271.50" r="1.8" fill="#cfcfcf" stroke="#333" stroke-width="1.0"/>
<circle cx="293.80" cy="274.40" r="1.8" fill="#cfcfcf" stroke="#333" stroke-width="1.0"/>
<circle cx="298.70" cy="274.40" r="1.8" fill="#cfcfcf" stroke="#333" stroke-width="1.0"/>
<circle cx="301.70" cy="252.20" r="1.8" fill="#cfcfcf" stroke="#333" stroke-width="1.0"/>
<circle cx="304.50" cy="268.30" r="1.8" fill="#cfcfcf" stroke="#333" stroke-width="1.0"/>
<circle cx="307.70" cy="273.30" r="1.8" fill="#cfcfcf" stroke="#333" stroke-width="1.0"/>
<circle cx="310.90" cy="269.80" r="1.8" fill="#cfcfcf" stroke="#333" stroke-width="1.0"/>
<circle cx="313.70" cy="273.30" r="1.8" fill="#cfcfcf" stroke="#333" stroke-width="1.0"/>
<circle cx="318.30" cy="264.80" r="1.8" fill="#cfcfcf" stroke="#333" stroke-width="1.0"/>
<circle cx="321.50" cy="272.10" r="1.8" fill="#cfcfcf" stroke="#333" stroke-width="1.0"/>
<circle cx="324.40" cy="264.80" r="1.8" fill="#cfcfcf" stroke="#333" stroke-width="1.0"/>
<circle cx="327.30" cy="272.50" r="1.8" fill="#cfcfcf" stroke="#333" stroke-width="1.0"/>
<circle cx="330.70" cy="262.10" r="1.8" fill="#cfcfcf" stroke="#333" stroke-width="1.0"/>
<circle cx="333.60" cy="269.00" r="1.8" fill="#cfcfcf" stroke="#333" stroke-width="1.0"/>
<path d="M214.15,280.40L218.35,280.40L216.25,284.80Z" fill="#111"/>
<path d="M216.90,274.10L221.10,274.10L219.00,278.50Z" fill="#111"/>
<path d="M220.15,279.75L224.35,279.75L222.25,284.15Z" fill="#111"/>
<path d="M223.15,272.90L227.35,272.90L225.25,277.30Z" fill="#111"/>
<path d="M226.40,269.75L230.60,269.75L228.50,274.15Z" fill="#111"/>
<path d="M229.40,267.50L233.60,267.50L231.50,271.90Z" fill="#111"/>
<path d="M232.65,261.60L236.85,261.60L234.75,266.00Z" fill="#111"/>
<path d="M235.65,262.90L239.85,262.90L237.75,267.30Z" fill="#111"/>
<path d="M238.50,257.00L242.70,257.00L240.60,261.40Z" fill="#111"/>
<path d="M241.40,258.50L245.60,258.50L243.50,262.90Z" fill="#111"/>
<path d="M244.80,261.00L249.00,261.00L246.90,265.40Z" fill="#111"/>
<path d="M247.90,267.00L252.10,267.00L250.00,271.40Z" fill="#111"/>
<path d="M251.00,259.10L255.20,259.10L253.10,263.50Z" fill="#111"/>
<path d="M253.90,251.60L258.10,251.60L256.00,256.00Z" fill="#111"/>
<path d="M256.90,242.25L261.10,242.25L259.00,246.65Z" fill="#111"/>
<path d="M259.80,248.75L264.00,248.75L261.90,253.15Z" fill="#111"/>
<path d="M262.90,247.50L267.10,247.50L265.00,251.90Z" fill="#111"/>
<path d="M266.00,249.50L270.20,249.50L268.10,253.90Z" fill="#111"/>
<path d="M269.15,243.75L273.35,243.75L271.25,248.15Z" fill="#111"/>
<path d="M272.20,240.60L276.40,240.60L274.30,245.00Z" fill="#111"/>
<path d="M275.20,251.00L279.40,251.00L277.30,255.40Z" fill="#111"/>
<path d="M278.30,238.90L282.50,238.90L280.40,243.30Z" fill="#111"/>
<path d="M281.40,233.70L285.60,233.70L283.50,238.10Z" fill="#111"/>
<path d="M284.30,248.40L288.50,248.40L286.40,252.80Z" fill="#111"/>
<path d="M287.20,220.80L291.40,220.80L289.30,225.20Z" fill="#111"/>
<path d="M290.40,227.30L294.60,227.30L292.50,231.70Z" fill="#111"/>
<path d="M293.50,238.90L297.70,238.90L295.60,243.30Z" fill="#111"/>
<path d="M296.40,245.00L300.60,245.00L298.50,249.40Z" fill="#111"/>
<path d="M299.30,209.50L303.50,209.50L301.40,213.90Z" fill="#111"/>
<path d="M302.40,237.20L306.60,237.20L304.50,241.60Z" fill="#111"/>
<path d="M305.50,243.60L309.70,243.60L307.60,248.00Z" fill="#111"/>
<path d="M308.70,229.10L312.90,229.10L310.80,233.50Z" fill="#111"/>
<path d="M311.80,232.50L316.00,232.50L313.90,236.90Z" fill="#111"/>
<path d="M314.90,238.90L319.10,238.90L317.00,243.30Z" fill="#111"/>
<path d="M318.00,244.10L322.20,244.10L320.10,248.50Z" fill="#111"/>
<path d="M320.90,236.00L325.10,236.00L323.00,240.40Z" fill="#111"/>
<path d="M324.00,244.10L328.20,244.10L326.10,248.50Z" fill="#111"/>
<path d="M327.10,226.30L331.30,226.30L329.20,230.70Z" fill="#111"/>
<path d="M330.10,241.10L334.30,241.10L332.20,245.50Z" fill="#111"/>
<path d="M333.20,233.20L337.40,233.20L335.30,237.60Z" fill="#111"/>
<circle cx="213.30" cy="278.00" r="2.2" fill="#111" stroke="#111" stroke-width="0.8"/>
<circle cx="395.80" cy="284.80" r="1.8" fill="#cfcfcf" stroke="#333" stroke-width="1.0"/>
<circle cx="398.73" cy="283.30" r="1.8" fill="#cfcfcf" stroke="#333" stroke-width="1.0"/>
<circle cx="401.66" cy="282.00" r="1.8" fill="#cfcfcf" stroke="#333" stroke-width="1.0"/>
<circle cx="404.59" cy="280.60" r="1.8" fill="#cfcfcf" stroke="#333" stroke-width="1.0"/>
<circle cx="407.52" cy="282.90" r="1.8" fill="#cfcfcf" stroke="#333" stroke-width="1.0"/>
<circle cx="410.45" cy="283.10" r="1.8" fill="#cfcfcf" stroke="#333" stroke-width="1.0"/>
<circle cx="413.39" cy="280.00" r="1.8" fill="#cfcfcf" stroke="#333" stroke-width="1.0"/>
<circle cx="416.32" cy="278.40" r="1.8" fill="#cfcfcf" stroke="#333" stroke-width="1.0"/>
<circle cx="419.25" cy="282.00" r="1.8" fill="#cfcfcf" stroke="#333" stroke-width="1.0"/>
<circle cx="422.18" cy="279.70" r="1.8" fill="#cfcfcf" stroke="#333" stroke-width="1.0"/>
<circle cx="425.11" cy="278.40" r="1.8" fill="#cfcfcf" stroke="#333" stroke-width="1.0"/>
<circle cx="428.04" cy="278.60" r="1.8" fill="#cfcfcf" stroke="#333" stroke-width="1.0"/>
<circle cx="430.97" cy="274.70" r="1.8" fill="#cfcfcf" stroke="#333" stroke-width="1.0"/>
<circle cx="433.90" cy="273.00" r="1.8" fill="#cfcfcf" stroke="#333" stroke-width="1.0"/>
<circle cx="436.83" cy="265.20" r="1.8" fill="#cfcfcf" stroke="#333" stroke-width="1.0"/>
<circle cx="439.76" cy="263.50" r="1.8" fill="#cfcfcf" stroke="#333" stroke-width="1.0"/>
<circle cx="442.70" cy="264.40" r="1.8" fill="#cfcfcf" stroke="#333" stroke-width="1.0"/>
<circle cx="445.63" cy="265.00" r="1.8" fill="#cfcfcf" stroke="#333" stroke-width="1.0"/>
<circle cx="448.56" cy="267.60" r="1.8" fill="#cfcfcf" stroke="#333" stroke-width="1.0"/>
<circle cx="451.49" cy="265.50" r="1.8" fill="#cfcfcf" stroke="#333" stroke-width="1.0"/>
<circle cx="454.42" cy="262.30" r="1.8" fill="#cfcfcf" stroke="#333" stroke-width="1.0"/>
<circle cx="457.35" cy="260.10" r="1.8" fill="#cfcfcf" stroke="#333" stroke-width="1.0"/>
<circle cx="460.28" cy="261.80" r="1.8" fill="#cfcfcf" stroke="#333" stroke-width="1.0"/>
<circle cx="463.21" cy="262.70" r="1.8" fill="#cfcfcf" stroke="#333" stroke-width="1.0"/>
<circle cx="466.14" cy="260.60" r="1.8" fill="#cfcfcf" stroke="#333" stroke-width="1.0"/>
<circle cx="469.07" cy="261.10" r="1.8" fill="#cfcfcf" stroke="#333" stroke-width="1.0"/>
<circle cx="472.01" cy="263.10" r="1.8" fill="#cfcfcf" stroke="#333" stroke-width="1.0"/>
<circle cx="474.94" cy="261.10" r="1.8" fill="#cfcfcf" stroke="#333" stroke-width="1.0"/>
<circle cx="477.87" cy="260.60" r="1.8" fill="#cfcfcf" stroke="#333" stroke-width="1.0"/>
<circle cx="480.80" cy="256.50" r="1.8" fill="#cfcfcf" stroke="#333" stroke-width="1.0"/>
<circle cx="483.73" cy="257.40" r="1.8" fill="#cfcfcf" stroke="#333" stroke-width="1.0"/>
<circle cx="486.66" cy="255.20" r="1.8" fill="#cfcfcf" stroke="#333" stroke-width="1.0"/>
<circle cx="489.59" cy="257.40" r="1.8" fill="#cfcfcf" stroke="#333" stroke-width="1.0"/>
<circle cx="492.52" cy="257.40" r="1.8" fill="#cfcfcf" stroke="#333" stroke-width="1.0"/>
<circle cx="495.45" cy="261.10" r="1.8" fill="#cfcfcf" stroke="#333" stroke-width="1.0"/>
<circle cx="498.38" cy="261.10" r="1.8" fill="#cfcfcf" stroke="#333" stroke-width="1.0"/>
<circle cx="501.32" cy="254.90" r="1.8" fill="#cfcfcf" stroke="#333" stroke-width="1.0"/>
<circle cx="504.25" cy="256.90" r="1.8" fill="#cfcfcf" stroke="#333" stroke-width="1.0"/>
<circle cx="507.18" cy="259.50" r="1.8" fill="#cfcfcf" stroke="#333" stroke-width="1.0"/>
<circle cx="510.11" cy="254.10" r="1.8" fill="#cfcfcf" stroke="#333" stroke-width="1.0"/>
<circle cx="513.04" cy="257.40" r="1.8" fill="#cfcfcf" stroke="#333" stroke-width="1.0"/>
<path d="M396.63,275.80L400.83,275.80L398.73,280.20Z" fill="#111"/>
<path d="M399.56,261.70L403.76,261.70L401.66,266.10Z" fill="#111"/>
<path d="M402.49,251.20L406.69,251.20L404.59,255.60Z" fill="#111"/>
<path d="M405.42,240.50L409.62,240.50L407.52,244.90Z" fill="#111"/>
<path d="M408.35,230.20L412.56,230.20L410.45,234.60Z" fill="#111"/>
<path d="M411.29,219.10L415.49,219.10L413.39,223.50Z" fill="#111"/>
<path d="M414.22,211.00L418.42,211.00L416.32,215.40Z" fill="#111"/>
<path d="M417.15,209.10L421.35,209.10L419.25,213.50Z" fill="#111"/>
<path d="M420.08,203.00L424.28,203.00L422.18,207.40Z" fill="#111"/>
<path d="M423.01,200.70L427.21,200.70L425.11,205.10Z" fill="#111"/>
<path d="M425.94,202.70L430.14,202.70L428.04,207.10Z" fill="#111"/>
<path d="M428.87,200.40L433.07,200.40L430.97,204.80Z" fill="#111"/>
<path d="M431.80,200.70L436.00,200.70L433.90,205.10Z" fill="#111"/>
<path d="M434.73,198.70L438.93,198.70L436.83,203.10Z" fill="#111"/>
<path d="M437.66,201.60L441.87,201.60L439.76,206.00Z" fill="#111"/>
<path d="M440.60,203.30L444.80,203.30L442.70,207.70Z" fill="#111"/>
<path d="M443.53,203.60L447.73,203.60L445.63,208.00Z" fill="#111"/>
<path d="M446.46,207.30L450.66,207.30L448.56,211.70Z" fill="#111"/>
<path d="M449.39,206.50L453.59,206.50L451.49,210.90Z" fill="#111"/>
<path d="M452.32,205.80L456.52,205.80L454.42,210.20Z" fill="#111"/>
<path d="M455.25,205.30L459.45,205.30L457.35,209.70Z" fill="#111"/>
<path d="M458.18,207.60L462.38,207.60L460.28,212.00Z" fill="#111"/>
<path d="M461.11,208.60L465.31,208.60L463.21,213.00Z" fill="#111"/>
<path d="M464.04,208.00L468.24,208.00L466.14,212.40Z" fill="#111"/>
<path d="M466.97,209.90L471.18,209.90L469.07,214.30Z" fill="#111"/>
<path d="M469.91,212.30L474.11,212.30L472.01,216.70Z" fill="#111"/>
<path d="M472.84,207.20L477.04,207.20L474.94,211.60Z" fill="#111"/>
<path d="M475.77,208.60L479.97,208.60L477.87,213.00Z" fill="#111"/>
<path d="M478.70,203.60L482.90,203.60L480.80,208.00Z" fill="#111"/>
<path d="M481.63,205.30L485.83,205.30L483.73,209.70Z" fill="#111"/>
<path d="M484.56,203.60L488.76,203.60L486.66,208.00Z" fill="#111"/>
<path d="M487.49,207.60L491.69,207.60L489.59,212.00Z" fill="#111"/>
<path d="M490.42,206.30L494.62,206.30L492.52,210.70Z" fill="#111"/>
<path d="M493.35,209.00L497.55,209.00L495.45,213.40Z" fill="#111"/>
<path d="M496.28,209.90L500.49,209.90L498.38,214.30Z" fill="#111"/>
<path d="M499.22,207.20L503.42,207.20L501.32,211.60Z" fill="#111"/>
<path d="M502.15,206.30L506.35,206.30L504.25,210.70Z" fill="#111"/>
<path d="M505.08,209.90L509.28,209.90L507.18,214.30Z" fill="#111"/>
<path d="M508.01,203.60L512.21,203.60L510.11,208.00Z" fill="#111"/>
<path d="M510.94,207.60L515.14,207.60L513.04,212.00Z" fill="#111"/>
<circle cx="395.60" cy="281.10" r="2.2" fill="#111" stroke="#111" stroke-width="0.8"/>
<text x="-0.6" y="332.5" font-size="11.2" font-weight="bold">D</text>
<line x1="27.10" y1="358.49" x2="27.10" y2="471.03" stroke="#111" stroke-width="1.15"/>
<line x1="26.50" y1="470.43" x2="146.20" y2="470.43" stroke="#111" stroke-width="1.15"/>
<line x1="25.20" y1="470.43" x2="27.10" y2="470.43" stroke="#111" stroke-width="1.0"/>
<text x="24.60" y="473.21" font-size="7.95" text-anchor="end">0.5</text>
<line x1="25.20" y1="456.50" x2="27.10" y2="456.50" stroke="#111" stroke-width="1.0"/>
<text x="24.60" y="459.28" font-size="7.95" text-anchor="end">1</text>
<line x1="25.20" y1="442.57" x2="27.10" y2="442.57" stroke="#111" stroke-width="1.0"/>
<text x="24.60" y="445.35" font-size="7.95" text-anchor="end">2</text>
<line x1="25.20" y1="428.64" x2="27.10" y2="428.64" stroke="#111" stroke-width="1.0"/>
<text x="24.60" y="431.42" font-size="7.95" text-anchor="end">4</text>
<line x1="25.20" y1="414.71" x2="27.10" y2="414.71" stroke="#111" stroke-width="1.0"/>
<text x="24.60" y="417.49" font-size="7.95" text-anchor="end">8</text>
<line x1="25.20" y1="400.78" x2="27.10" y2="400.78" stroke="#111" stroke-width="1.0"/>
<text x="24.60" y="403.56" font-size="7.95" text-anchor="end">16</text>
<line x1="25.20" y1="386.85" x2="27.10" y2="386.85" stroke="#111" stroke-width="1.0"/>
<text x="24.60" y="389.63" font-size="7.95" text-anchor="end">32</text>
<line x1="25.20" y1="372.92" x2="27.10" y2="372.92" stroke="#111" stroke-width="1.0"/>
<text x="24.60" y="375.70" font-size="7.95" text-anchor="end">64</text>
<line x1="25.20" y1="358.99" x2="27.10" y2="358.99" stroke="#111" stroke-width="1.0"/>
<text x="24.60" y="361.77" font-size="7.95" text-anchor="end">128</text>
<line x1="26.90" y1="470.43" x2="26.90" y2="472.33" stroke="#111" stroke-width="1.0"/>
<text x="26.90" y="479.63" font-size="7.95" text-anchor="middle">0</text>
<line x1="46.70" y1="470.43" x2="46.70" y2="472.33" stroke="#111" stroke-width="1.0"/>
<text x="46.70" y="479.63" font-size="7.95" text-anchor="middle">40</text>
<line x1="66.50" y1="470.43" x2="66.50" y2="472.33" stroke="#111" stroke-width="1.0"/>
<text x="66.50" y="479.63" font-size="7.95" text-anchor="middle">80</text>
<line x1="86.30" y1="470.43" x2="86.30" y2="472.33" stroke="#111" stroke-width="1.0"/>
<text x="86.30" y="479.63" font-size="7.95" text-anchor="middle">120</text>
<line x1="106.10" y1="470.43" x2="106.10" y2="472.33" stroke="#111" stroke-width="1.0"/>
<text x="106.10" y="479.63" font-size="7.95" text-anchor="middle">160</text>
<line x1="125.90" y1="470.43" x2="125.90" y2="472.33" stroke="#111" stroke-width="1.0"/>
<text x="125.90" y="479.63" font-size="7.95" text-anchor="middle">200</text>
<line x1="145.70" y1="470.43" x2="145.70" y2="472.33" stroke="#111" stroke-width="1.0"/>
<text x="145.70" y="479.63" font-size="7.95" text-anchor="middle">240</text>
<text transform="translate(27.51,355.70) scale(1.000,1)" font-size="9.71" font-weight="bold" >GLS.VGPD.1</text>
<text transform="translate(6.90,448.23) rotate(-90)" font-size="7.85">Fold activation (log<tspan font-size="5.49" dy="1.73">2</tspan><tspan dy="-1.73">)</tspan></text>
<text transform="translate(68.20,489.00) scale(1.000,1)" font-size="7.81" font-weight="normal" >Time (min)</text>
<path d="M88.60,424.25L92.60,424.25L90.60,427.90Z" fill="#111"/>
<text transform="translate(97.13,428.80) scale(1.000,1)" font-size="9.58" font-weight="normal" >NK92</text>
<circle cx="90.30" cy="436.20" r="1.8" fill="#cfcfcf" stroke="#333" stroke-width="1.0"/>
<text transform="translate(97.12,439.40) scale(1.000,1)" font-size="9.72" font-weight="normal" >NK+IL2</text>
<line x1="212.80" y1="359.80" x2="212.80" y2="470.80" stroke="#111" stroke-width="1.15"/>
<line x1="212.20" y1="470.20" x2="333.40" y2="470.20" stroke="#111" stroke-width="1.15"/>
<line x1="210.90" y1="470.20" x2="212.80" y2="470.20" stroke="#111" stroke-width="1.0"/>
<text x="210.30" y="472.98" font-size="7.95" text-anchor="end">0</text>
<line x1="210.90" y1="448.22" x2="212.80" y2="448.22" stroke="#111" stroke-width="1.0"/>
<text x="210.30" y="451.00" font-size="7.95" text-anchor="end">1</text>
<line x1="210.90" y1="426.24" x2="212.80" y2="426.24" stroke="#111" stroke-width="1.0"/>
<text x="210.30" y="429.02" font-size="7.95" text-anchor="end">2</text>
<line x1="210.90" y1="404.26" x2="212.80" y2="404.26" stroke="#111" stroke-width="1.0"/>
<text x="210.30" y="407.04" font-size="7.95" text-anchor="end">3</text>
<line x1="210.90" y1="382.28" x2="212.80" y2="382.28" stroke="#111" stroke-width="1.0"/>
<text x="210.30" y="385.06" font-size="7.95" text-anchor="end">4</text>
<line x1="210.90" y1="360.30" x2="212.80" y2="360.30" stroke="#111" stroke-width="1.0"/>
<text x="210.30" y="363.08" font-size="7.95" text-anchor="end">5</text>
<line x1="212.90" y1="470.20" x2="212.90" y2="472.10" stroke="#111" stroke-width="1.0"/>
<text x="212.90" y="479.60" font-size="7.95" text-anchor="middle">0</text>
<line x1="232.90" y1="470.20" x2="232.90" y2="472.10" stroke="#111" stroke-width="1.0"/>
<text x="232.90" y="479.60" font-size="7.95" text-anchor="middle">40</text>
<line x1="252.90" y1="470.20" x2="252.90" y2="472.10" stroke="#111" stroke-width="1.0"/>
<text x="252.90" y="479.60" font-size="7.95" text-anchor="middle">80</text>
<line x1="272.90" y1="470.20" x2="272.90" y2="472.10" stroke="#111" stroke-width="1.0"/>
<text x="272.90" y="479.60" font-size="7.95" text-anchor="middle">120</text>
<line x1="292.90" y1="470.20" x2="292.90" y2="472.10" stroke="#111" stroke-width="1.0"/>
<text x="292.90" y="479.60" font-size="7.95" text-anchor="middle">160</text>
<line x1="312.90" y1="470.20" x2="312.90" y2="472.10" stroke="#111" stroke-width="1.0"/>
<text x="312.90" y="479.60" font-size="7.95" text-anchor="middle">200</text>
<line x1="332.90" y1="470.20" x2="332.90" y2="472.10" stroke="#111" stroke-width="1.0"/>
<text x="332.90" y="479.60" font-size="7.95" text-anchor="middle">240</text>
<text transform="translate(212.89,354.60) scale(1.000,1)" font-size="10.13" font-weight="bold" >GLS.SGR.5</text>
<text transform="translate(197.40,437.71) rotate(-90)" font-size="7.68">Fold activation</text>
<text transform="translate(254.80,490.30) scale(1.000,1)" font-size="7.85" font-weight="normal" >Time (min)</text>
<path d="M220.70,365.25L224.70,365.25L222.70,368.90Z" fill="#111"/>
<text transform="translate(229.33,369.80) scale(1.000,1)" font-size="9.58" font-weight="normal" >NK92</text>
<circle cx="222.30" cy="378.20" r="1.8" fill="#cfcfcf" stroke="#333" stroke-width="1.0"/>
<text transform="translate(229.32,380.90) scale(1.000,1)" font-size="9.72" font-weight="normal" >NK+IL2</text>
<line x1="395.50" y1="358.80" x2="395.50" y2="470.90" stroke="#111" stroke-width="1.15"/>
<line x1="394.90" y1="470.30" x2="514.40" y2="470.30" stroke="#111" stroke-width="1.15"/>
<line x1="393.60" y1="470.30" x2="395.50" y2="470.30" stroke="#111" stroke-width="1.0"/>
<text x="393.00" y="473.08" font-size="7.95" text-anchor="end">0.5</text>
<line x1="393.60" y1="451.80" x2="395.50" y2="451.80" stroke="#111" stroke-width="1.0"/>
<text x="393.00" y="454.58" font-size="7.95" text-anchor="end">1</text>
<line x1="393.60" y1="433.30" x2="395.50" y2="433.30" stroke="#111" stroke-width="1.0"/>
<text x="393.00" y="436.08" font-size="7.95" text-anchor="end">2</text>
<line x1="393.60" y1="414.80" x2="395.50" y2="414.80" stroke="#111" stroke-width="1.0"/>
<text x="393.00" y="417.58" font-size="7.95" text-anchor="end">4</text>
<line x1="393.60" y1="396.30" x2="395.50" y2="396.30" stroke="#111" stroke-width="1.0"/>
<text x="393.00" y="399.08" font-size="7.95" text-anchor="end">8</text>
<line x1="393.60" y1="377.80" x2="395.50" y2="377.80" stroke="#111" stroke-width="1.0"/>
<text x="393.00" y="380.58" font-size="7.95" text-anchor="end">16</text>
<line x1="393.60" y1="359.30" x2="395.50" y2="359.30" stroke="#111" stroke-width="1.0"/>
<text x="393.00" y="362.08" font-size="7.95" text-anchor="end">32</text>
<line x1="395.60" y1="470.30" x2="395.60" y2="472.20" stroke="#111" stroke-width="1.0"/>
<text x="395.60" y="479.60" font-size="7.95" text-anchor="middle">0</text>
<line x1="415.32" y1="470.30" x2="415.32" y2="472.20" stroke="#111" stroke-width="1.0"/>
<text x="415.32" y="479.60" font-size="7.95" text-anchor="middle">40</text>
<line x1="435.03" y1="470.30" x2="435.03" y2="472.20" stroke="#111" stroke-width="1.0"/>
<text x="435.03" y="479.60" font-size="7.95" text-anchor="middle">80</text>
<line x1="454.75" y1="470.30" x2="454.75" y2="472.20" stroke="#111" stroke-width="1.0"/>
<text x="454.75" y="479.60" font-size="7.95" text-anchor="middle">120</text>
<line x1="474.47" y1="470.30" x2="474.47" y2="472.20" stroke="#111" stroke-width="1.0"/>
<text x="474.47" y="479.60" font-size="7.95" text-anchor="middle">160</text>
<line x1="494.18" y1="470.30" x2="494.18" y2="472.20" stroke="#111" stroke-width="1.0"/>
<text x="494.18" y="479.60" font-size="7.95" text-anchor="middle">200</text>
<line x1="513.90" y1="470.30" x2="513.90" y2="472.20" stroke="#111" stroke-width="1.0"/>
<text x="513.90" y="479.60" font-size="7.95" text-anchor="middle">240</text>
<text transform="translate(396.90,354.20) scale(1.000,1)" font-size="10.05" font-weight="bold" >GLS.DEVD.6</text>
<text transform="translate(377.90,448.04) rotate(-90)" font-size="8.02">Fold activation (log<tspan font-size="5.62" dy="1.77">2</tspan><tspan dy="-1.77">)</tspan></text>
<text transform="translate(437.11,489.70) scale(1.000,1)" font-size="7.70" font-weight="normal" >Time (min)</text>
<path d="M444.20,417.35L448.20,417.35L446.20,421.00Z" fill="#111"/>
<text transform="translate(452.72,421.80) scale(1.000,1)" font-size="9.70" font-weight="normal" >NK92</text>
<circle cx="446.30" cy="430.20" r="1.8" fill="#cfcfcf" stroke="#333" stroke-width="1.0"/>
<text transform="translate(452.72,432.90) scale(1.000,1)" font-size="9.75" font-weight="normal" >NK+IL2</text>
<circle cx="26.80" cy="452.00" r="1.8" fill="#cfcfcf" stroke="#333" stroke-width="1.0"/>
<circle cx="29.77" cy="453.50" r="1.8" fill="#cfcfcf" stroke="#333" stroke-width="1.0"/>
<circle cx="32.74" cy="442.80" r="1.8" fill="#cfcfcf" stroke="#333" stroke-width="1.0"/>
<circle cx="35.71" cy="431.30" r="1.8" fill="#cfcfcf" stroke="#333" stroke-width="1.0"/>
<circle cx="38.68" cy="424.10" r="1.8" fill="#cfcfcf" stroke="#333" stroke-width="1.0"/>
<circle cx="41.65" cy="419.90" r="1.8" fill="#cfcfcf" stroke="#333" stroke-width="1.0"/>
<circle cx="44.62" cy="415.60" r="1.8" fill="#cfcfcf" stroke="#333" stroke-width="1.0"/>
<circle cx="47.59" cy="408.70" r="1.8" fill="#cfcfcf" stroke="#333" stroke-width="1.0"/>
<circle cx="50.56" cy="408.70" r="1.8" fill="#cfcfcf" stroke="#333" stroke-width="1.0"/>
<circle cx="53.53" cy="404.50" r="1.8" fill="#cfcfcf" stroke="#333" stroke-width="1.0"/>
<circle cx="56.50" cy="402.00" r="1.8" fill="#cfcfcf" stroke="#333" stroke-width="1.0"/>
<circle cx="59.47" cy="406.80" r="1.8" fill="#cfcfcf" stroke="#333" stroke-width="1.0"/>
<circle cx="62.44" cy="397.80" r="1.8" fill="#cfcfcf" stroke="#333" stroke-width="1.0"/>
<circle cx="65.41" cy="401.10" r="1.8" fill="#cfcfcf" stroke="#333" stroke-width="1.0"/>
<circle cx="68.38" cy="402.00" r="1.8" fill="#cfcfcf" stroke="#333" stroke-width="1.0"/>
<circle cx="71.35" cy="403.00" r="1.8" fill="#cfcfcf" stroke="#333" stroke-width="1.0"/>
<circle cx="74.32" cy="403.80" r="1.8" fill="#cfcfcf" stroke="#333" stroke-width="1.0"/>
<circle cx="77.29" cy="398.80" r="1.8" fill="#cfcfcf" stroke="#333" stroke-width="1.0"/>
<circle cx="80.26" cy="402.60" r="1.8" fill="#cfcfcf" stroke="#333" stroke-width="1.0"/>
<circle cx="83.23" cy="399.90" r="1.8" fill="#cfcfcf" stroke="#333" stroke-width="1.0"/>
<circle cx="86.20" cy="396.80" r="1.8" fill="#cfcfcf" stroke="#333" stroke-width="1.0"/>
<circle cx="89.17" cy="399.90" r="1.8" fill="#cfcfcf" stroke="#333" stroke-width="1.0"/>
<circle cx="92.14" cy="396.70" r="1.8" fill="#cfcfcf" stroke="#333" stroke-width="1.0"/>
<circle cx="95.11" cy="401.20" r="1.8" fill="#cfcfcf" stroke="#333" stroke-width="1.0"/>
<circle cx="98.08" cy="403.10" r="1.8" fill="#cfcfcf" stroke="#333" stroke-width="1.0"/>
<circle cx="101.05" cy="402.10" r="1.8" fill="#cfcfcf" stroke="#333" stroke-width="1.0"/>
<circle cx="104.02" cy="401.20" r="1.8" fill="#cfcfcf" stroke="#333" stroke-width="1.0"/>
<circle cx="106.99" cy="399.00" r="1.8" fill="#cfcfcf" stroke="#333" stroke-width="1.0"/>
<circle cx="109.96" cy="393.20" r="1.8" fill="#cfcfcf" stroke="#333" stroke-width="1.0"/>
<circle cx="112.93" cy="399.70" r="1.8" fill="#cfcfcf" stroke="#333" stroke-width="1.0"/>
<circle cx="115.90" cy="402.40" r="1.8" fill="#cfcfcf" stroke="#333" stroke-width="1.0"/>
<circle cx="118.87" cy="399.30" r="1.8" fill="#cfcfcf" stroke="#333" stroke-width="1.0"/>
<circle cx="121.84" cy="392.60" r="1.8" fill="#cfcfcf" stroke="#333" stroke-width="1.0"/>
<circle cx="124.81" cy="406.90" r="1.8" fill="#cfcfcf" stroke="#333" stroke-width="1.0"/>
<circle cx="127.78" cy="398.60" r="1.8" fill="#cfcfcf" stroke="#333" stroke-width="1.0"/>
<circle cx="130.75" cy="389.90" r="1.8" fill="#cfcfcf" stroke="#333" stroke-width="1.0"/>
<circle cx="133.72" cy="401.30" r="1.8" fill="#cfcfcf" stroke="#333" stroke-width="1.0"/>
<circle cx="136.69" cy="401.10" r="1.8" fill="#cfcfcf" stroke="#333" stroke-width="1.0"/>
<circle cx="139.66" cy="403.60" r="1.8" fill="#cfcfcf" stroke="#333" stroke-width="1.0"/>
<circle cx="142.63" cy="399.80" r="1.8" fill="#cfcfcf" stroke="#333" stroke-width="1.0"/>
<circle cx="145.60" cy="397.10" r="1.8" fill="#cfcfcf" stroke="#333" stroke-width="1.0"/>
<path d="M24.80,455.55L28.80,455.55L26.80,459.20Z" fill="#111"/>
<path d="M30.74,430.75L34.74,430.75L32.74,434.40Z" fill="#111"/>
<path d="M33.71,411.45L37.71,411.45L35.71,415.10Z" fill="#111"/>
<path d="M36.68,401.75L40.68,401.75L38.68,405.40Z" fill="#111"/>
<path d="M39.65,395.55L43.65,395.55L41.65,399.20Z" fill="#111"/>
<path d="M42.62,388.95L46.62,388.95L44.62,392.60Z" fill="#111"/>
<path d="M45.59,383.25L49.59,383.25L47.59,386.90Z" fill="#111"/>
<path d="M48.56,381.25L52.56,381.25L50.56,384.90Z" fill="#111"/>
<path d="M51.53,379.05L55.53,379.05L53.53,382.70Z" fill="#111"/>
<path d="M54.50,377.55L58.50,377.55L56.50,381.20Z" fill="#111"/>
<path d="M57.47,382.25L61.47,382.25L59.47,385.90Z" fill="#111"/>
<path d="M60.44,372.75L64.44,372.75L62.44,376.40Z" fill="#111"/>
<path d="M63.41,377.05L67.41,377.05L65.41,380.70Z" fill="#111"/>
<path d="M66.38,379.05L70.38,379.05L68.38,382.70Z" fill="#111"/>
<path d="M69.35,380.25L73.35,380.25L71.35,383.90Z" fill="#111"/>
<path d="M72.32,381.35L76.32,381.35L74.32,385.00Z" fill="#111"/>
<path d="M75.29,376.35L79.29,376.35L77.29,380.00Z" fill="#111"/>
<path d="M78.26,381.15L82.26,381.15L80.26,384.80Z" fill="#111"/>
<path d="M81.23,378.05L85.23,378.05L83.23,381.70Z" fill="#111"/>
<path d="M84.20,378.45L88.20,378.45L86.20,382.10Z" fill="#111"/>
<path d="M87.17,380.05L91.17,380.05L89.17,383.70Z" fill="#111"/>
<path d="M90.14,378.75L94.14,378.75L92.14,382.40Z" fill="#111"/>
<path d="M93.11,381.35L97.11,381.35L95.11,385.00Z" fill="#111"/>
<path d="M96.08,384.25L100.08,384.25L98.08,387.90Z" fill="#111"/>
<path d="M99.05,384.85L103.05,384.85L101.05,388.50Z" fill="#111"/>
<path d="M102.02,384.25L106.02,384.25L104.02,387.90Z" fill="#111"/>
<path d="M104.99,381.65L108.99,381.65L106.99,385.30Z" fill="#111"/>
<path d="M107.96,377.25L111.96,377.25L109.96,380.90Z" fill="#111"/>
<path d="M110.93,382.95L114.93,382.95L112.93,386.60Z" fill="#111"/>
<path d="M113.90,386.85L117.90,386.85L115.90,390.50Z" fill="#111"/>
<path d="M116.87,385.05L120.87,385.05L118.87,388.70Z" fill="#111"/>
<path d="M119.84,377.95L123.84,377.95L121.84,381.60Z" fill="#111"/>
<path d="M122.81,391.75L126.81,391.75L124.81,395.40Z" fill="#111"/>
<path d="M125.78,382.85L129.78,382.85L127.78,386.50Z" fill="#111"/>
<path d="M128.75,377.95L132.75,377.95L130.75,381.60Z" fill="#111"/>
<path d="M131.72,385.05L135.72,385.05L133.72,388.70Z" fill="#111"/>
<path d="M134.69,387.35L138.69,387.35L136.69,391.00Z" fill="#111"/>
<path d="M137.66,390.15L141.66,390.15L139.66,393.80Z" fill="#111"/>
<path d="M140.63,386.85L144.63,386.85L142.63,390.50Z" fill="#111"/>
<path d="M143.60,384.15L147.60,384.15L145.60,387.80Z" fill="#111"/>
<circle cx="212.90" cy="450.90" r="1.8" fill="#cfcfcf" stroke="#333" stroke-width="1.0"/>
<circle cx="215.90" cy="447.80" r="1.8" fill="#cfcfcf" stroke="#333" stroke-width="1.0"/>
<circle cx="218.90" cy="448.60" r="1.8" fill="#cfcfcf" stroke="#333" stroke-width="1.0"/>
<circle cx="221.90" cy="457.10" r="1.8" fill="#cfcfcf" stroke="#333" stroke-width="1.0"/>
<circle cx="224.90" cy="438.30" r="1.8" fill="#cfcfcf" stroke="#333" stroke-width="1.0"/>
<circle cx="227.90" cy="451.50" r="1.8" fill="#cfcfcf" stroke="#333" stroke-width="1.0"/>
<circle cx="230.90" cy="437.30" r="1.8" fill="#cfcfcf" stroke="#333" stroke-width="1.0"/>
<circle cx="233.90" cy="431.70" r="1.8" fill="#cfcfcf" stroke="#333" stroke-width="1.0"/>
<circle cx="236.90" cy="425.10" r="1.8" fill="#cfcfcf" stroke="#333" stroke-width="1.0"/>
<circle cx="239.90" cy="430.10" r="1.8" fill="#cfcfcf" stroke="#333" stroke-width="1.0"/>
<circle cx="242.90" cy="442.00" r="1.8" fill="#cfcfcf" stroke="#333" stroke-width="1.0"/>
<circle cx="245.90" cy="442.90" r="1.8" fill="#cfcfcf" stroke="#333" stroke-width="1.0"/>
<circle cx="248.90" cy="449.90" r="1.8" fill="#cfcfcf" stroke="#333" stroke-width="1.0"/>
<circle cx="251.90" cy="443.90" r="1.8" fill="#cfcfcf" stroke="#333" stroke-width="1.0"/>
<circle cx="254.90" cy="439.00" r="1.8" fill="#cfcfcf" stroke="#333" stroke-width="1.0"/>
<circle cx="257.90" cy="416.90" r="1.8" fill="#cfcfcf" stroke="#333" stroke-width="1.0"/>
<circle cx="260.90" cy="429.10" r="1.8" fill="#cfcfcf" stroke="#333" stroke-width="1.0"/>
<circle cx="263.90" cy="431.00" r="1.8" fill="#cfcfcf" stroke="#333" stroke-width="1.0"/>
<circle cx="266.90" cy="436.50" r="1.8" fill="#cfcfcf" stroke="#333" stroke-width="1.0"/>
<circle cx="269.90" cy="428.70" r="1.8" fill="#cfcfcf" stroke="#333" stroke-width="1.0"/>
<circle cx="272.90" cy="419.50" r="1.8" fill="#cfcfcf" stroke="#333" stroke-width="1.0"/>
<circle cx="275.90" cy="428.40" r="1.8" fill="#cfcfcf" stroke="#333" stroke-width="1.0"/>
<circle cx="278.90" cy="438.30" r="1.8" fill="#cfcfcf" stroke="#333" stroke-width="1.0"/>
<circle cx="281.90" cy="407.80" r="1.8" fill="#cfcfcf" stroke="#333" stroke-width="1.0"/>
<circle cx="284.90" cy="440.50" r="1.8" fill="#cfcfcf" stroke="#333" stroke-width="1.0"/>
<circle cx="287.90" cy="403.20" r="1.8" fill="#cfcfcf" stroke="#333" stroke-width="1.0"/>
<circle cx="290.90" cy="423.80" r="1.8" fill="#cfcfcf" stroke="#333" stroke-width="1.0"/>
<circle cx="293.90" cy="408.50" r="1.8" fill="#cfcfcf" stroke="#333" stroke-width="1.0"/>
<circle cx="296.90" cy="433.70" r="1.8" fill="#cfcfcf" stroke="#333" stroke-width="1.0"/>
<circle cx="299.90" cy="408.20" r="1.8" fill="#cfcfcf" stroke="#333" stroke-width="1.0"/>
<circle cx="302.90" cy="431.40" r="1.8" fill="#cfcfcf" stroke="#333" stroke-width="1.0"/>
<circle cx="305.90" cy="433.70" r="1.8" fill="#cfcfcf" stroke="#333" stroke-width="1.0"/>
<circle cx="308.90" cy="398.60" r="1.8" fill="#cfcfcf" stroke="#333" stroke-width="1.0"/>
<circle cx="311.90" cy="418.40" r="1.8" fill="#cfcfcf" stroke="#333" stroke-width="1.0"/>
<circle cx="314.90" cy="408.20" r="1.8" fill="#cfcfcf" stroke="#333" stroke-width="1.0"/>
<circle cx="317.90" cy="424.50" r="1.8" fill="#cfcfcf" stroke="#333" stroke-width="1.0"/>
<circle cx="320.90" cy="435.70" r="1.8" fill="#cfcfcf" stroke="#333" stroke-width="1.0"/>
<circle cx="323.90" cy="424.10" r="1.8" fill="#cfcfcf" stroke="#333" stroke-width="1.0"/>
<circle cx="326.90" cy="402.10" r="1.8" fill="#cfcfcf" stroke="#333" stroke-width="1.0"/>
<circle cx="329.90" cy="420.40" r="1.8" fill="#cfcfcf" stroke="#333" stroke-width="1.0"/>
<circle cx="332.90" cy="417.70" r="1.8" fill="#cfcfcf" stroke="#333" stroke-width="1.0"/>
<path d="M210.90,442.35L214.90,442.35L212.90,446.00Z" fill="#111"/>
<path d="M213.90,449.65L217.90,449.65L215.90,453.30Z" fill="#111"/>
<path d="M216.90,440.75L220.90,440.75L218.90,444.40Z" fill="#111"/>
<path d="M219.90,450.25L223.90,450.25L221.90,453.90Z" fill="#111"/>
<path d="M222.90,444.75L226.90,444.75L224.90,448.40Z" fill="#111"/>
<path d="M225.90,439.05L229.90,439.05L227.90,442.70Z" fill="#111"/>
<path d="M228.90,439.05L232.90,439.05L230.90,442.70Z" fill="#111"/>
<path d="M231.90,430.75L235.90,430.75L233.90,434.40Z" fill="#111"/>
<path d="M234.90,430.15L238.90,430.15L236.90,433.80Z" fill="#111"/>
<path d="M237.90,422.25L241.90,422.25L239.90,425.90Z" fill="#111"/>
<path d="M240.90,428.45L244.90,428.45L242.90,432.10Z" fill="#111"/>
<path d="M243.90,428.85L247.90,428.85L245.90,432.50Z" fill="#111"/>
<path d="M246.90,433.35L250.90,433.35L248.90,437.00Z" fill="#111"/>
<path d="M249.90,429.35L253.90,429.35L251.90,433.00Z" fill="#111"/>
<path d="M252.90,421.25L256.90,421.25L254.90,424.90Z" fill="#111"/>
<path d="M255.90,410.35L259.90,410.35L257.90,414.00Z" fill="#111"/>
<path d="M258.90,414.85L262.90,414.85L260.90,418.50Z" fill="#111"/>
<path d="M261.90,416.65L265.90,416.65L263.90,420.30Z" fill="#111"/>
<path d="M264.90,415.25L268.90,415.25L266.90,418.90Z" fill="#111"/>
<path d="M267.90,410.05L271.90,410.05L269.90,413.70Z" fill="#111"/>
<path d="M270.90,412.65L274.90,412.65L272.90,416.30Z" fill="#111"/>
<path d="M273.90,418.25L277.90,418.25L275.90,421.90Z" fill="#111"/>
<path d="M276.90,411.05L280.90,411.05L278.90,414.70Z" fill="#111"/>
<path d="M279.90,414.75L283.90,414.75L281.90,418.40Z" fill="#111"/>
<path d="M282.90,417.95L286.90,417.95L284.90,421.60Z" fill="#111"/>
<path d="M285.90,394.35L289.90,394.35L287.90,398.00Z" fill="#111"/>
<path d="M288.90,399.35L292.90,399.35L290.90,403.00Z" fill="#111"/>
<path d="M291.90,405.05L295.90,405.05L293.90,408.70Z" fill="#111"/>
<path d="M294.90,413.05L298.90,413.05L296.90,416.70Z" fill="#111"/>
<path d="M297.90,379.55L301.90,379.55L299.90,383.20Z" fill="#111"/>
<path d="M300.90,403.45L304.90,403.45L302.90,407.10Z" fill="#111"/>
<path d="M303.90,408.55L307.90,408.55L305.90,412.20Z" fill="#111"/>
<path d="M306.90,395.05L310.90,395.05L308.90,398.70Z" fill="#111"/>
<path d="M309.90,402.75L313.90,402.75L311.90,406.40Z" fill="#111"/>
<path d="M312.90,403.95L316.90,403.95L314.90,407.60Z" fill="#111"/>
<path d="M315.90,410.65L319.90,410.65L317.90,414.30Z" fill="#111"/>
<path d="M318.90,403.95L322.90,403.95L320.90,407.60Z" fill="#111"/>
<path d="M321.90,412.15L325.90,412.15L323.90,415.80Z" fill="#111"/>
<path d="M324.90,393.55L328.90,393.55L326.90,397.20Z" fill="#111"/>
<path d="M327.90,405.45L331.90,405.45L329.90,409.10Z" fill="#111"/>
<path d="M330.90,400.85L334.90,400.85L332.90,404.50Z" fill="#111"/>
<circle cx="395.70" cy="452.50" r="1.8" fill="#cfcfcf" stroke="#333" stroke-width="1.0"/>
<circle cx="398.64" cy="447.50" r="1.8" fill="#cfcfcf" stroke="#333" stroke-width="1.0"/>
<circle cx="401.58" cy="441.90" r="1.8" fill="#cfcfcf" stroke="#333" stroke-width="1.0"/>
<circle cx="404.52" cy="441.90" r="1.8" fill="#cfcfcf" stroke="#333" stroke-width="1.0"/>
<circle cx="407.46" cy="429.80" r="1.8" fill="#cfcfcf" stroke="#333" stroke-width="1.0"/>
<circle cx="410.40" cy="423.50" r="1.8" fill="#cfcfcf" stroke="#333" stroke-width="1.0"/>
<circle cx="413.34" cy="413.40" r="1.8" fill="#cfcfcf" stroke="#333" stroke-width="1.0"/>
<circle cx="416.28" cy="396.50" r="1.8" fill="#cfcfcf" stroke="#333" stroke-width="1.0"/>
<circle cx="419.22" cy="397.80" r="1.8" fill="#cfcfcf" stroke="#333" stroke-width="1.0"/>
<circle cx="422.16" cy="392.70" r="1.8" fill="#cfcfcf" stroke="#333" stroke-width="1.0"/>
<circle cx="425.10" cy="386.20" r="1.8" fill="#cfcfcf" stroke="#333" stroke-width="1.0"/>
<circle cx="428.04" cy="388.10" r="1.8" fill="#cfcfcf" stroke="#333" stroke-width="1.0"/>
<circle cx="430.98" cy="388.80" r="1.8" fill="#cfcfcf" stroke="#333" stroke-width="1.0"/>
<circle cx="433.92" cy="388.10" r="1.8" fill="#cfcfcf" stroke="#333" stroke-width="1.0"/>
<circle cx="436.86" cy="388.30" r="1.8" fill="#cfcfcf" stroke="#333" stroke-width="1.0"/>
<circle cx="439.80" cy="395.70" r="1.8" fill="#cfcfcf" stroke="#333" stroke-width="1.0"/>
<circle cx="442.74" cy="390.70" r="1.8" fill="#cfcfcf" stroke="#333" stroke-width="1.0"/>
<circle cx="445.68" cy="394.50" r="1.8" fill="#cfcfcf" stroke="#333" stroke-width="1.0"/>
<circle cx="448.62" cy="394.50" r="1.8" fill="#cfcfcf" stroke="#333" stroke-width="1.0"/>
<circle cx="451.56" cy="395.30" r="1.8" fill="#cfcfcf" stroke="#333" stroke-width="1.0"/>
<circle cx="454.50" cy="394.90" r="1.8" fill="#cfcfcf" stroke="#333" stroke-width="1.0"/>
<circle cx="457.44" cy="391.50" r="1.8" fill="#cfcfcf" stroke="#333" stroke-width="1.0"/>
<circle cx="460.38" cy="390.90" r="1.8" fill="#cfcfcf" stroke="#333" stroke-width="1.0"/>
<circle cx="463.32" cy="384.30" r="1.8" fill="#cfcfcf" stroke="#333" stroke-width="1.0"/>
<circle cx="466.26" cy="389.90" r="1.8" fill="#cfcfcf" stroke="#333" stroke-width="1.0"/>
<circle cx="469.20" cy="388.40" r="1.8" fill="#cfcfcf" stroke="#333" stroke-width="1.0"/>
<circle cx="472.14" cy="382.00" r="1.8" fill="#cfcfcf" stroke="#333" stroke-width="1.0"/>
<circle cx="475.08" cy="384.30" r="1.8" fill="#cfcfcf" stroke="#333" stroke-width="1.0"/>
<circle cx="478.02" cy="385.10" r="1.8" fill="#cfcfcf" stroke="#333" stroke-width="1.0"/>
<circle cx="480.96" cy="380.90" r="1.8" fill="#cfcfcf" stroke="#333" stroke-width="1.0"/>
<circle cx="483.90" cy="384.50" r="1.8" fill="#cfcfcf" stroke="#333" stroke-width="1.0"/>
<circle cx="486.84" cy="383.80" r="1.8" fill="#cfcfcf" stroke="#333" stroke-width="1.0"/>
<circle cx="489.78" cy="383.80" r="1.8" fill="#cfcfcf" stroke="#333" stroke-width="1.0"/>
<circle cx="492.72" cy="391.80" r="1.8" fill="#cfcfcf" stroke="#333" stroke-width="1.0"/>
<circle cx="495.66" cy="390.90" r="1.8" fill="#cfcfcf" stroke="#333" stroke-width="1.0"/>
<circle cx="498.60" cy="388.40" r="1.8" fill="#cfcfcf" stroke="#333" stroke-width="1.0"/>
<circle cx="501.54" cy="392.00" r="1.8" fill="#cfcfcf" stroke="#333" stroke-width="1.0"/>
<circle cx="504.48" cy="386.50" r="1.8" fill="#cfcfcf" stroke="#333" stroke-width="1.0"/>
<circle cx="507.42" cy="392.80" r="1.8" fill="#cfcfcf" stroke="#333" stroke-width="1.0"/>
<circle cx="510.36" cy="388.20" r="1.8" fill="#cfcfcf" stroke="#333" stroke-width="1.0"/>
<circle cx="513.30" cy="386.80" r="1.8" fill="#cfcfcf" stroke="#333" stroke-width="1.0"/>
<path d="M393.70,445.75L397.70,445.75L395.70,449.40Z" fill="#111"/>
<path d="M396.64,443.25L400.64,443.25L398.64,446.90Z" fill="#111"/>
<path d="M399.58,436.45L403.58,436.45L401.58,440.10Z" fill="#111"/>
<path d="M402.52,433.35L406.52,433.35L404.52,437.00Z" fill="#111"/>
<path d="M405.46,417.75L409.46,417.75L407.46,421.40Z" fill="#111"/>
<path d="M408.40,409.95L412.40,409.95L410.40,413.60Z" fill="#111"/>
<path d="M411.34,397.45L415.34,397.45L413.34,401.10Z" fill="#111"/>
<path d="M414.28,389.45L418.28,389.45L416.28,393.10Z" fill="#111"/>
<path d="M417.22,382.45L421.22,382.45L419.22,386.10Z" fill="#111"/>
<path d="M420.16,377.55L424.16,377.55L422.16,381.20Z" fill="#111"/>
<path d="M423.10,374.15L427.10,374.15L425.10,377.80Z" fill="#111"/>
<path d="M426.04,374.95L430.04,374.95L428.04,378.60Z" fill="#111"/>
<path d="M428.98,375.45L432.98,375.45L430.98,379.10Z" fill="#111"/>
<path d="M431.92,373.85L435.92,373.85L433.92,377.50Z" fill="#111"/>
<path d="M434.86,375.55L438.86,375.55L436.86,379.20Z" fill="#111"/>
<path d="M437.80,384.05L441.80,384.05L439.80,387.70Z" fill="#111"/>
<path d="M440.74,379.85L444.74,379.85L442.74,383.50Z" fill="#111"/>
<path d="M443.68,381.95L447.68,381.95L445.68,385.60Z" fill="#111"/>
<path d="M446.62,383.75L450.62,383.75L448.62,387.40Z" fill="#111"/>
<path d="M449.56,385.05L453.56,385.05L451.56,388.70Z" fill="#111"/>
<path d="M452.50,386.95L456.50,386.95L454.50,390.60Z" fill="#111"/>
<path d="M455.44,382.55L459.44,382.55L457.44,386.20Z" fill="#111"/>
<path d="M458.38,380.75L462.38,380.75L460.38,384.40Z" fill="#111"/>
<path d="M461.32,377.15L465.32,377.15L463.32,380.80Z" fill="#111"/>
<path d="M464.26,383.25L468.26,383.25L466.26,386.90Z" fill="#111"/>
<path d="M467.20,382.15L471.20,382.15L469.20,385.80Z" fill="#111"/>
<path d="M470.14,377.55L474.14,377.55L472.14,381.20Z" fill="#111"/>
<path d="M473.08,378.65L477.08,378.65L475.08,382.30Z" fill="#111"/>
<path d="M476.02,381.35L480.02,381.35L478.02,385.00Z" fill="#111"/>
<path d="M478.96,377.75L482.96,377.75L480.96,381.40Z" fill="#111"/>
<path d="M481.90,380.75L485.90,380.75L483.90,384.40Z" fill="#111"/>
<path d="M484.84,377.95L488.84,377.95L486.84,381.60Z" fill="#111"/>
<path d="M487.78,377.95L491.78,377.95L489.78,381.60Z" fill="#111"/>
<path d="M490.72,386.95L494.72,386.95L492.72,390.60Z" fill="#111"/>
<path d="M493.66,386.15L497.66,386.15L495.66,389.80Z" fill="#111"/>
<path d="M496.60,383.05L500.60,383.05L498.60,386.70Z" fill="#111"/>
<path d="M499.54,386.15L503.54,386.15L501.54,389.80Z" fill="#111"/>
<path d="M502.48,381.75L506.48,381.75L504.48,385.40Z" fill="#111"/>
<path d="M505.42,385.55L509.42,385.55L507.42,389.20Z" fill="#111"/>
<path d="M508.36,380.55L512.36,380.55L510.36,384.20Z" fill="#111"/>
<path d="M511.30,382.95L515.30,382.95L513.30,386.60Z" fill="#111"/>
</g></svg>
</body></html>
